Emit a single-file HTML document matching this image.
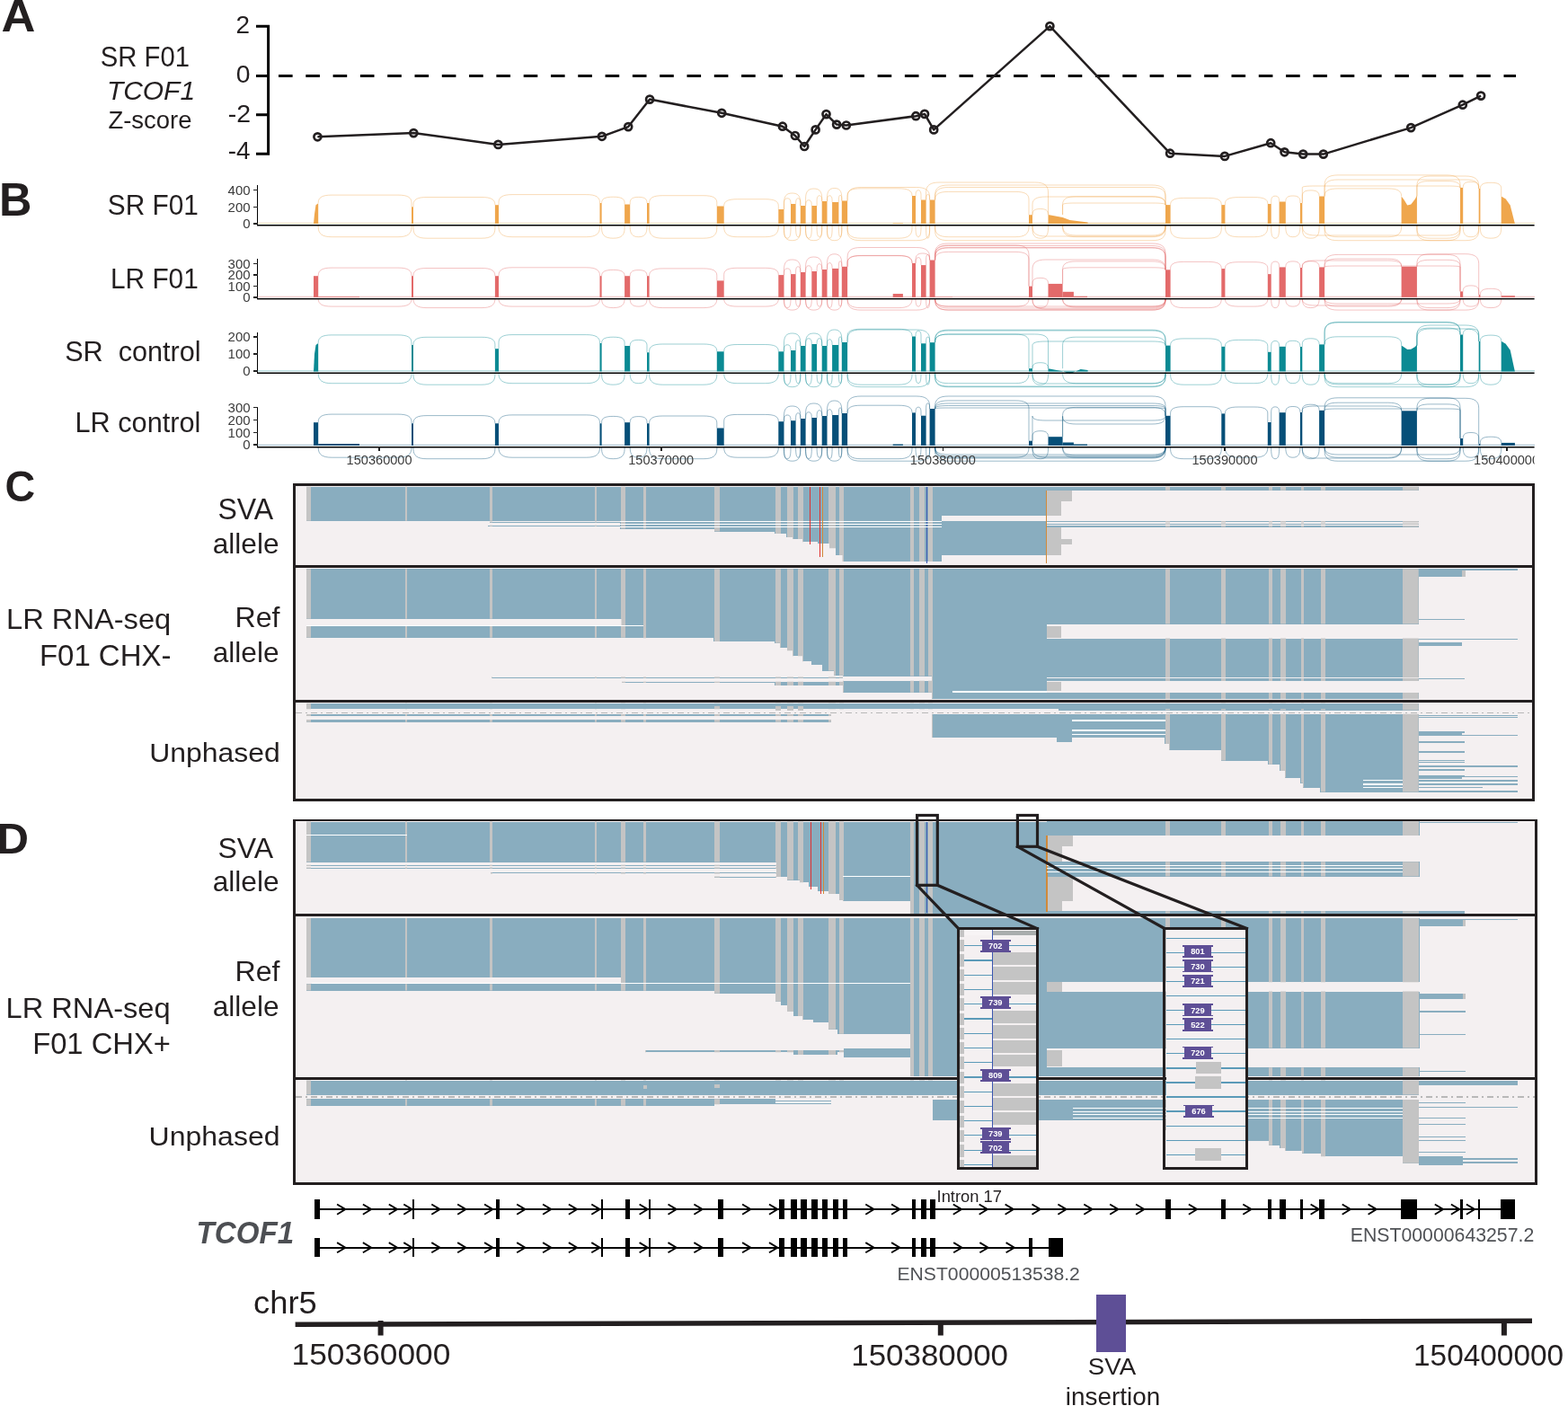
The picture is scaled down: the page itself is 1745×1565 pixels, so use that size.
<!DOCTYPE html>
<html><head><meta charset="utf-8"><title>TCOF1 figure</title>
<style>
html,body{margin:0;padding:0;background:#fff;}
body{width:1745px;height:1565px;overflow:hidden;}
svg{display:block;}
text{font-family:'Liberation Sans', Arial, Helvetica, sans-serif;}
</style></head><body>
<svg width="1745" height="1565" viewBox="0 0 1745 1565" shape-rendering="crispEdges">
<text x="1.63" y="34.70" font-size="50.71" fill="#231f20" font-weight="bold" textLength="37.86" lengthAdjust="spacingAndGlyphs">A</text>
<text x="111.84" y="73.79" font-size="31.27" fill="#231f20" textLength="99.13" lengthAdjust="spacingAndGlyphs">SR F01</text>
<text x="118.91" y="110.50" font-size="30.42" fill="#231f20" font-style="italic" textLength="98.13" lengthAdjust="spacingAndGlyphs">TCOF1</text>
<text x="120.38" y="142.72" font-size="28.14" fill="#231f20" textLength="93.08" lengthAdjust="spacingAndGlyphs">Z-score</text>
<text x="262.51" y="36.60" font-size="27.86" fill="#231f20">2</text>
<text x="262.77" y="92.02" font-size="28.31" fill="#231f20">0</text>
<text x="253.76" y="135.90" font-size="28.43" fill="#231f20">-2</text>
<text x="253.79" y="176.80" font-size="27.86" fill="#231f20">-4</text>
<text x="-1.03" y="239.50" font-size="51.88" fill="#231f20" font-weight="bold" textLength="36.46" lengthAdjust="spacingAndGlyphs">B</text>
<text x="119.81" y="239.29" font-size="31.27" fill="#231f20" textLength="100.98" lengthAdjust="spacingAndGlyphs">SR F01</text>
<text x="123.02" y="321.48" font-size="31.83" fill="#231f20" textLength="97.76" lengthAdjust="spacingAndGlyphs">LR F01</text>
<text x="72.18" y="402.09" font-size="30.54" fill="#231f20" textLength="151.45" lengthAdjust="spacingAndGlyphs" xml:space="preserve">SR  control</text>
<text x="83.54" y="480.59" font-size="30.68" fill="#231f20">LR control</text>
<text x="5.44" y="557.91" font-size="49.01" fill="#231f20" font-weight="bold" textLength="33.67" lengthAdjust="spacingAndGlyphs">C</text>
<text x="242.50" y="577.87" font-size="32.82" fill="#231f20" textLength="61.72" lengthAdjust="spacingAndGlyphs">SVA</text>
<text x="236.73" y="615.69" font-size="30.95" fill="#231f20" textLength="73.89" lengthAdjust="spacingAndGlyphs">allele</text>
<text x="261.53" y="698.49" font-size="30.68" fill="#231f20" textLength="49.95" lengthAdjust="spacingAndGlyphs">Ref</text>
<text x="236.73" y="736.69" font-size="30.95" fill="#231f20" textLength="73.89" lengthAdjust="spacingAndGlyphs">allele</text>
<text x="7.09" y="700.38" font-size="30.55" fill="#231f20" textLength="183.16" lengthAdjust="spacingAndGlyphs">LR RNA-seq</text>
<text x="43.96" y="740.68" font-size="32.39" fill="#231f20" textLength="146.43" lengthAdjust="spacingAndGlyphs">F01 CHX-</text>
<text x="166.25" y="848.48" font-size="30.11" fill="#231f20" textLength="145.56" lengthAdjust="spacingAndGlyphs">Unphased</text>
<text x="-3.44" y="950.40" font-size="48.41" fill="#231f20" font-weight="bold" textLength="35.52" lengthAdjust="spacingAndGlyphs">D</text>
<text x="242.50" y="954.68" font-size="32.25" fill="#231f20" textLength="61.72" lengthAdjust="spacingAndGlyphs">SVA</text>
<text x="236.73" y="992.49" font-size="31.08" fill="#231f20" textLength="73.89" lengthAdjust="spacingAndGlyphs">allele</text>
<text x="261.53" y="1092.49" font-size="30.81" fill="#231f20" textLength="49.95" lengthAdjust="spacingAndGlyphs">Ref</text>
<text x="236.73" y="1130.59" font-size="30.95" fill="#231f20" textLength="73.89" lengthAdjust="spacingAndGlyphs">allele</text>
<text x="6.49" y="1132.87" font-size="31.10" fill="#231f20" textLength="183.16" lengthAdjust="spacingAndGlyphs">LR RNA-seq</text>
<text x="36.18" y="1172.68" font-size="32.39" fill="#231f20" textLength="153.74" lengthAdjust="spacingAndGlyphs">F01 CHX+</text>
<text x="165.64" y="1275.24" font-size="29.79" fill="#231f20" textLength="145.87" lengthAdjust="spacingAndGlyphs">Unphased</text>
<text x="1042.55" y="1338.01" font-size="18.59" fill="#231f20" textLength="72.52" lengthAdjust="spacingAndGlyphs">Intron 17</text>
<text x="218.58" y="1384.15" font-size="34.79" fill="#4d4f53" font-weight="bold" font-style="italic" textLength="108.54" lengthAdjust="spacingAndGlyphs">TCOF1</text>
<text x="998.51" y="1424.80" font-size="20.28" fill="#505256" textLength="203.32" lengthAdjust="spacingAndGlyphs">ENST00000513538.2</text>
<text x="1502.80" y="1382.08" font-size="21.69" fill="#505256" textLength="204.44" lengthAdjust="spacingAndGlyphs">ENST00000643257.2</text>
<text x="282.05" y="1461.75" font-size="34.86" fill="#231f20" textLength="70.60" lengthAdjust="spacingAndGlyphs">chr5</text>
<text x="324.57" y="1519.37" font-size="32.68" fill="#231f20" textLength="176.78" lengthAdjust="spacingAndGlyphs">150360000</text>
<text x="947.31" y="1520.27" font-size="32.54" fill="#231f20" textLength="174.73" lengthAdjust="spacingAndGlyphs">150380000</text>
<text x="1573.03" y="1520.27" font-size="32.54" fill="#231f20" textLength="167.16" lengthAdjust="spacingAndGlyphs">150400000</text>
<text x="1210.82" y="1530.44" font-size="25.92" fill="#231f20" textLength="53.27" lengthAdjust="spacingAndGlyphs">SVA</text>
<text x="1185.75" y="1563.63" font-size="27.43" fill="#231f20" textLength="105.40" lengthAdjust="spacingAndGlyphs">insertion</text>
<g shape-rendering="auto">
<path d="M285,29.2 H298.6 V171.3 H285 M285,84.4 H298.6 M285,127.7 H298.6" fill="none" stroke="#000" stroke-width="3"/>
<line x1="310" y1="84.4" x2="1687" y2="84.4" stroke="#000" stroke-width="3" stroke-dasharray="15.6 14.7"/>
<polyline points="353.4,152.3 460.3,148.1 554.4,160.9 669.9,151.8 699.2,141.1 723.1,110.6 803.2,125.8 870.9,140.7 884.9,151.0 895.2,163.0 907.6,144.4 919.5,127.1 931.1,138.6 941.8,139.5 1019.3,129.2 1029.0,126.9 1039.2,144.4 1168.4,29.1 1302.1,170.7 1363.0,173.9 1414.2,159.2 1429.5,169.3 1450.2,171.6 1472.8,171.6 1570.2,142.1 1627.8,116.7 1648.1,106.6" fill="none" stroke="#231f20" stroke-width="2.5" stroke-linejoin="round"/>
<circle cx="353.4" cy="152.3" r="4.0" fill="none" stroke="#231f20" stroke-width="2.7"/>
<circle cx="460.3" cy="148.1" r="4.0" fill="none" stroke="#231f20" stroke-width="2.7"/>
<circle cx="554.4" cy="160.9" r="4.0" fill="none" stroke="#231f20" stroke-width="2.7"/>
<circle cx="669.9" cy="151.8" r="4.0" fill="none" stroke="#231f20" stroke-width="2.7"/>
<circle cx="699.2" cy="141.1" r="4.0" fill="none" stroke="#231f20" stroke-width="2.7"/>
<circle cx="723.1" cy="110.6" r="4.0" fill="none" stroke="#231f20" stroke-width="2.7"/>
<circle cx="803.2" cy="125.8" r="4.0" fill="none" stroke="#231f20" stroke-width="2.7"/>
<circle cx="870.9" cy="140.7" r="4.0" fill="none" stroke="#231f20" stroke-width="2.7"/>
<circle cx="884.9" cy="151.0" r="4.0" fill="none" stroke="#231f20" stroke-width="2.7"/>
<circle cx="895.2" cy="163.0" r="4.0" fill="none" stroke="#231f20" stroke-width="2.7"/>
<circle cx="907.6" cy="144.4" r="4.0" fill="none" stroke="#231f20" stroke-width="2.7"/>
<circle cx="919.5" cy="127.1" r="4.0" fill="none" stroke="#231f20" stroke-width="2.7"/>
<circle cx="931.1" cy="138.6" r="4.0" fill="none" stroke="#231f20" stroke-width="2.7"/>
<circle cx="941.8" cy="139.5" r="4.0" fill="none" stroke="#231f20" stroke-width="2.7"/>
<circle cx="1019.3" cy="129.2" r="4.0" fill="none" stroke="#231f20" stroke-width="2.7"/>
<circle cx="1029.0" cy="126.9" r="4.0" fill="none" stroke="#231f20" stroke-width="2.7"/>
<circle cx="1039.2" cy="144.4" r="4.0" fill="none" stroke="#231f20" stroke-width="2.7"/>
<circle cx="1168.4" cy="29.1" r="4.0" fill="none" stroke="#231f20" stroke-width="2.7"/>
<circle cx="1302.1" cy="170.7" r="4.0" fill="none" stroke="#231f20" stroke-width="2.7"/>
<circle cx="1363.0" cy="173.9" r="4.0" fill="none" stroke="#231f20" stroke-width="2.7"/>
<circle cx="1414.2" cy="159.2" r="4.0" fill="none" stroke="#231f20" stroke-width="2.7"/>
<circle cx="1429.5" cy="169.3" r="4.0" fill="none" stroke="#231f20" stroke-width="2.7"/>
<circle cx="1450.2" cy="171.6" r="4.0" fill="none" stroke="#231f20" stroke-width="2.7"/>
<circle cx="1472.8" cy="171.6" r="4.0" fill="none" stroke="#231f20" stroke-width="2.7"/>
<circle cx="1570.2" cy="142.1" r="4.0" fill="none" stroke="#231f20" stroke-width="2.7"/>
<circle cx="1627.8" cy="116.7" r="4.0" fill="none" stroke="#231f20" stroke-width="2.7"/>
<circle cx="1648.1" cy="106.6" r="4.0" fill="none" stroke="#231f20" stroke-width="2.7"/>
</g>
<rect x="350.2" y="1345.1" width="1335.3999999999999" height="2" fill="#000"/>
<rect x="350.2" y="1335.3" width="5.300000000000011" height="21.299999999999955" fill="#000"/>
<rect x="459" y="1335.3" width="2" height="21.299999999999955" fill="#000"/>
<rect x="551.8" y="1335.3" width="4.0" height="21.299999999999955" fill="#000"/>
<rect x="668.5" y="1335.3" width="2.0" height="21.299999999999955" fill="#000"/>
<rect x="696.2" y="1335.3" width="5.199999999999932" height="21.299999999999955" fill="#000"/>
<rect x="721.5" y="1335.3" width="2.0" height="21.299999999999955" fill="#000"/>
<rect x="799.3" y="1335.3" width="6.0" height="21.299999999999955" fill="#000"/>
<rect x="866.8" y="1335.3" width="6.400000000000091" height="21.299999999999955" fill="#000"/>
<rect x="880.4" y="1335.3" width="6.2000000000000455" height="21.299999999999955" fill="#000"/>
<rect x="891.3" y="1335.3" width="6.400000000000091" height="21.299999999999955" fill="#000"/>
<rect x="903.4" y="1335.3" width="6.399999999999977" height="21.299999999999955" fill="#000"/>
<rect x="915.2" y="1335.3" width="6.199999999999932" height="21.299999999999955" fill="#000"/>
<rect x="926.8" y="1335.3" width="6.5" height="21.299999999999955" fill="#000"/>
<rect x="937.7" y="1335.3" width="5.699999999999932" height="21.299999999999955" fill="#000"/>
<rect x="1015" y="1335.3" width="4.399999999999977" height="21.299999999999955" fill="#000"/>
<rect x="1025.4" y="1335.3" width="5.099999999999909" height="21.299999999999955" fill="#000"/>
<rect x="1035.2" y="1335.3" width="5.599999999999909" height="21.299999999999955" fill="#000"/>
<rect x="1296.8" y="1335.3" width="5.900000000000091" height="21.299999999999955" fill="#000"/>
<rect x="1359.1" y="1335.3" width="4.800000000000182" height="21.299999999999955" fill="#000"/>
<rect x="1411.1" y="1335.3" width="3.7000000000000455" height="21.299999999999955" fill="#000"/>
<rect x="1423.9" y="1335.3" width="7.199999999999818" height="21.299999999999955" fill="#000"/>
<rect x="1447.3" y="1335.3" width="2.2000000000000455" height="21.299999999999955" fill="#000"/>
<rect x="1468.4" y="1335.3" width="5.2999999999999545" height="21.299999999999955" fill="#000"/>
<rect x="1559.3" y="1335.3" width="17.799999999999955" height="21.299999999999955" fill="#000"/>
<rect x="1624.5" y="1335.3" width="3.2999999999999545" height="21.299999999999955" fill="#000"/>
<rect x="1645.2" y="1335.3" width="2.0" height="21.299999999999955" fill="#000"/>
<rect x="1670.4" y="1335.3" width="15.199999999999818" height="21.299999999999955" fill="#000"/>
<g shape-rendering="auto" fill="none" stroke="#000" stroke-width="1.9">
<path d="M375.1,1340.5 L384.4,1346.1 L375.1,1351.7"/>
<path d="M403.9,1340.5 L413.2,1346.1 L403.9,1351.7"/>
<path d="M432.8,1340.5 L442.1,1346.1 L432.8,1351.7"/>
<path d="M449.3,1340.5 L458.6,1346.1 L449.3,1351.7"/>
<path d="M480.3,1340.5 L489.6,1346.1 L480.3,1351.7"/>
<path d="M509.2,1340.5 L518.5,1346.1 L509.2,1351.7"/>
<path d="M539.1,1340.5 L548.4,1346.1 L539.1,1351.7"/>
<path d="M575.2,1340.5 L584.5,1346.1 L575.2,1351.7"/>
<path d="M604.1,1340.5 L613.4,1346.1 L604.1,1351.7"/>
<path d="M632.9,1340.5 L642.2,1346.1 L632.9,1351.7"/>
<path d="M658.3,1340.5 L667.6,1346.1 L658.3,1351.7"/>
<path d="M711.6,1340.5 L720.9,1346.1 L711.6,1351.7"/>
<path d="M743.5,1340.5 L752.8,1346.1 L743.5,1351.7"/>
<path d="M772.4,1340.5 L781.7,1346.1 L772.4,1351.7"/>
<path d="M826.1,1340.5 L835.4,1346.1 L826.1,1351.7"/>
<path d="M856.0,1340.5 L865.3,1346.1 L856.0,1351.7"/>
<path d="M963.3,1340.5 L972.6,1346.1 L963.3,1351.7"/>
<path d="M992.1,1340.5 L1001.4,1346.1 L992.1,1351.7"/>
<path d="M1060.8,1340.5 L1070.1,1346.1 L1060.8,1351.7"/>
<path d="M1089.7,1340.5 L1099.0,1346.1 L1089.7,1351.7"/>
<path d="M1118.6,1340.5 L1127.9,1346.1 L1118.6,1351.7"/>
<path d="M1148.5,1340.5 L1157.8,1346.1 L1148.5,1351.7"/>
<path d="M1177.4,1340.5 L1186.7,1346.1 L1177.4,1351.7"/>
<path d="M1206.3,1340.5 L1215.6,1346.1 L1206.3,1351.7"/>
<path d="M1235.2,1340.5 L1244.5,1346.1 L1235.2,1351.7"/>
<path d="M1264.1,1340.5 L1273.4,1346.1 L1264.1,1351.7"/>
<path d="M1322.9,1340.5 L1332.2,1346.1 L1322.9,1351.7"/>
<path d="M1383.3,1340.5 L1392.6,1346.1 L1383.3,1351.7"/>
<path d="M1458.6,1340.5 L1467.9,1346.1 L1458.6,1351.7"/>
<path d="M1493.7,1340.5 L1503.0,1346.1 L1493.7,1351.7"/>
<path d="M1522.6,1340.5 L1531.9,1346.1 L1522.6,1351.7"/>
<path d="M1596.8,1340.5 L1606.1,1346.1 L1596.8,1351.7"/>
<path d="M1614.9,1340.5 L1624.2,1346.1 L1614.9,1351.7"/>
<path d="M1631.9,1340.5 L1641.2,1346.1 L1631.9,1351.7"/>
</g>
<rect x="350.2" y="1387.7" width="832.5" height="2" fill="#000"/>
<rect x="350.2" y="1378.1" width="5.300000000000011" height="21.100000000000136" fill="#000"/>
<rect x="459" y="1378.1" width="2" height="21.100000000000136" fill="#000"/>
<rect x="551.8" y="1378.1" width="4.0" height="21.100000000000136" fill="#000"/>
<rect x="668.5" y="1378.1" width="2.0" height="21.100000000000136" fill="#000"/>
<rect x="696.2" y="1378.1" width="5.199999999999932" height="21.100000000000136" fill="#000"/>
<rect x="721.5" y="1378.1" width="2.0" height="21.100000000000136" fill="#000"/>
<rect x="799.3" y="1378.1" width="6.0" height="21.100000000000136" fill="#000"/>
<rect x="866.8" y="1378.1" width="6.400000000000091" height="21.100000000000136" fill="#000"/>
<rect x="880.4" y="1378.1" width="6.2000000000000455" height="21.100000000000136" fill="#000"/>
<rect x="891.3" y="1378.1" width="6.400000000000091" height="21.100000000000136" fill="#000"/>
<rect x="903.4" y="1378.1" width="6.399999999999977" height="21.100000000000136" fill="#000"/>
<rect x="915.2" y="1378.1" width="6.199999999999932" height="21.100000000000136" fill="#000"/>
<rect x="926.8" y="1378.1" width="6.5" height="21.100000000000136" fill="#000"/>
<rect x="937.7" y="1378.1" width="5.699999999999932" height="21.100000000000136" fill="#000"/>
<rect x="1015" y="1378.1" width="4.399999999999977" height="21.100000000000136" fill="#000"/>
<rect x="1025.4" y="1378.1" width="5.099999999999909" height="21.100000000000136" fill="#000"/>
<rect x="1035.2" y="1378.1" width="5.599999999999909" height="21.100000000000136" fill="#000"/>
<rect x="1145.3" y="1378.1" width="3.2999999999999545" height="21.100000000000136" fill="#000"/>
<rect x="1166.7" y="1378.1" width="16.0" height="21.100000000000136" fill="#000"/>
<g shape-rendering="auto" fill="none" stroke="#000" stroke-width="1.9">
<path d="M375.1,1383.1 L384.4,1388.7 L375.1,1394.3"/>
<path d="M403.9,1383.1 L413.2,1388.7 L403.9,1394.3"/>
<path d="M432.8,1383.1 L442.1,1388.7 L432.8,1394.3"/>
<path d="M449.3,1383.1 L458.6,1388.7 L449.3,1394.3"/>
<path d="M480.3,1383.1 L489.6,1388.7 L480.3,1394.3"/>
<path d="M509.2,1383.1 L518.5,1388.7 L509.2,1394.3"/>
<path d="M539.1,1383.1 L548.4,1388.7 L539.1,1394.3"/>
<path d="M575.2,1383.1 L584.5,1388.7 L575.2,1394.3"/>
<path d="M604.1,1383.1 L613.4,1388.7 L604.1,1394.3"/>
<path d="M632.9,1383.1 L642.2,1388.7 L632.9,1394.3"/>
<path d="M658.3,1383.1 L667.6,1388.7 L658.3,1394.3"/>
<path d="M711.6,1383.1 L720.9,1388.7 L711.6,1394.3"/>
<path d="M743.5,1383.1 L752.8,1388.7 L743.5,1394.3"/>
<path d="M772.4,1383.1 L781.7,1388.7 L772.4,1394.3"/>
<path d="M826.1,1383.1 L835.4,1388.7 L826.1,1394.3"/>
<path d="M856.0,1383.1 L865.3,1388.7 L856.0,1394.3"/>
<path d="M963.3,1383.1 L972.6,1388.7 L963.3,1394.3"/>
<path d="M992.1,1383.1 L1001.4,1388.7 L992.1,1394.3"/>
<path d="M1061.2,1383.1 L1070.5,1388.7 L1061.2,1394.3"/>
<path d="M1090.4,1383.1 L1099.7,1388.7 L1090.4,1394.3"/>
<path d="M1119.6,1383.1 L1128.9,1388.7 L1119.6,1394.3"/>
</g>
<g shape-rendering="auto">
<path d="M328.6,1474.2 L1705,1470.3" stroke="#231f20" stroke-width="5.6" fill="none"/>
<rect x="420.6" y="1470" width="6" height="16.5" fill="#231f20"/>
<rect x="1043.8" y="1470" width="6" height="16.5" fill="#231f20"/>
<rect x="1670.9" y="1470" width="6" height="16.5" fill="#231f20"/>
</g>
<rect x="1219.6" y="1441.2" width="33.2" height="63.7" fill="#5e4f96"/>
<g fill="#efa64c" shape-rendering="auto"><path d="M349,248.89999999999998 L350,238.2 L351.5,228.2 L354.2,226.2 L354.2,248.89999999999998 Z"/><rect x="458" y="230.3" width="2.0" height="18.6"/><rect x="550.9" y="228.2" width="4.1" height="20.7"/><rect x="667.5" y="226" width="2.1" height="22.9"/><rect x="695.1" y="227.5" width="6.1" height="21.4"/><rect x="720" y="226" width="2.6" height="22.9"/><rect x="797.8" y="229.5" width="7.9" height="19.4"/><rect x="866.3" y="233" width="6.2" height="15.9"/><rect x="880" y="227" width="5.6" height="21.9"/><rect x="890.8" y="229" width="5.8" height="19.9"/><rect x="903.3" y="229" width="5.8" height="19.9"/><rect x="914.7" y="224" width="5.8" height="24.9"/><rect x="926.1" y="225" width="7.3" height="23.9"/><rect x="936.8" y="223.5" width="6.3" height="25.4"/><rect x="1015" y="218" width="4.0" height="30.9"/><rect x="1025" y="222.5" width="5.6" height="26.4"/><rect x="1034.6" y="222.5" width="6.0" height="26.4"/><rect x="1145" y="239.2" width="4.0" height="9.7"/><path d="M1166.5,248.89999999999998 L1166.5,239 L1182.6,242 L1190.6,245 L1202.6,246.39999999999998 L1210.6,247.39999999999998 L1210.6,248.89999999999998 Z"/><rect x="1297" y="228.1" width="5.6" height="20.8"/><rect x="1359.3" y="228.1" width="4.1" height="20.8"/><rect x="1410.8" y="227" width="3.9" height="21.9"/><rect x="1423.6" y="224.5" width="7.2" height="24.4"/><rect x="1446.9" y="226" width="2.4" height="22.9"/><rect x="1468.1" y="218.5" width="6.0" height="30.4"/><path d="M1559.6,248.89999999999998 L1559.6,218.5 L1562.6,222.5 L1566.25,228.5 L1570.25,227.5 L1574.9,221.5 L1576.9,217.5 L1576.9,248.89999999999998 Z"/><rect x="1625" y="208.9" width="3.2" height="40.0"/><rect x="1645.7" y="210" width="1.7" height="38.9"/><path d="M1670.7,248.89999999999998 L1670.7,218.5 L1675.7,221.5 L1680.7,228.5 L1685.9,248.89999999999998 Z"/><rect x="1200" y="248.5" width="97.0" height="0.4"/><rect x="993.7" y="248.3" width="11.2" height="0.6"/></g>
<rect x="287" y="247.9" width="1421" height="0.9" fill="#efa64c" opacity="0.45" shape-rendering="auto"/>
<path d="M354.2,226.2 L354.2,225.7 C354.2,219.7 358.7,217.1 369.2,217.1 L443.0,217.1 C453.5,217.1 458.0,219.7 458.0,225.7 L458.0,230.3 M354.2,250.2 L354.2,252.7 C354.2,260.4 358.7,263.7 369.2,263.7 L443.0,263.7 C453.5,263.7 458.0,260.4 458.0,252.7 L458.0,250.2 M460.0,230.3 L460.0,227.8 C460.0,222.0 464.5,219.5 475.0,219.5 L535.9,219.5 C546.4,219.5 550.9,222.0 550.9,227.8 L550.9,228.2 M460.0,250.2 L460.0,254.2 C460.0,261.9 464.5,265.2 475.0,265.2 L535.9,265.2 C546.4,265.2 550.9,261.9 550.9,254.2 L550.9,250.2 M555.0,228.2 L555.0,225.5 C555.0,219.3 559.5,216.6 570.0,216.6 L652.5,216.6 C663.0,216.6 667.5,219.3 667.5,225.5 L667.5,226.0 M555.0,250.2 L555.0,252.7 C555.0,260.4 559.5,263.7 570.0,263.7 L652.5,263.7 C663.0,263.7 667.5,260.4 667.5,252.7 L667.5,250.2 M669.6,226.0 L669.6,225.7 C669.6,221.2 673.4,219.2 682.4,219.2 L682.4,219.2 C691.3,219.2 695.1,221.2 695.1,225.7 L695.1,227.5 M669.6,250.2 L669.6,254.2 C669.6,261.9 673.4,265.2 682.4,265.2 L682.4,265.2 C691.3,265.2 695.1,261.9 695.1,254.2 L695.1,250.2 M701.2,227.5 L701.2,225.7 C701.2,221.3 704.0,219.4 710.6,219.4 L710.6,219.4 C717.2,219.4 720.0,221.3 720.0,225.7 L720.0,226.0 M701.2,250.2 L701.2,252.7 C701.2,260.4 704.0,263.7 710.6,263.7 L710.6,263.7 C717.2,263.7 720.0,260.4 720.0,252.7 L720.0,250.2 M722.6,226.0 L722.6,225.6 C722.6,220.1 727.1,217.7 737.6,217.7 L782.8,217.7 C793.3,217.7 797.8,220.1 797.8,225.6 L797.8,229.5 M722.6,250.2 L722.6,254.2 C722.6,261.9 727.1,265.2 737.6,265.2 L782.8,265.2 C793.3,265.2 797.8,261.9 797.8,254.2 L797.8,250.2 M805.7,229.5 L805.7,229.1 C805.7,223.9 810.2,221.7 820.7,221.7 L851.3,221.7 C861.8,221.7 866.3,223.9 866.3,229.1 L866.3,233.0 M805.7,250.2 L805.7,252.7 C805.7,260.4 810.2,263.7 820.7,263.7 L851.3,263.7 C861.8,263.7 866.3,260.4 866.3,252.7 L866.3,250.2 M872.5,233.0 L872.5,226.7 C872.5,222.5 873.6,220.8 876.2,220.8 L876.2,220.8 C878.9,220.8 880.0,222.5 880.0,226.7 L880.0,227.0 M872.5,250.2 L872.5,254.2 C872.5,261.9 873.6,265.2 876.2,265.2 L876.2,265.2 C878.9,265.2 880.0,261.9 880.0,254.2 L880.0,250.2 M885.6,227.0 L885.6,226.7 C885.6,222.6 886.4,220.8 888.2,220.8 L888.2,220.8 C890.0,220.8 890.8,222.6 890.8,226.7 L890.8,229.0 M885.6,250.2 L885.6,252.7 C885.6,260.4 886.4,263.7 888.2,263.7 L888.2,263.7 C890.0,263.7 890.8,260.4 890.8,252.7 L890.8,250.2 M896.6,229.0 L896.6,228.7 C896.6,224.6 897.6,222.8 900.0,222.8 L900.0,222.8 C902.3,222.8 903.3,224.6 903.3,228.7 L903.3,229.0 M896.6,250.2 L896.6,254.2 C896.6,261.9 897.6,265.2 900.0,265.2 L900.0,265.2 C902.3,265.2 903.3,261.9 903.3,254.2 L903.3,250.2 M909.1,229.0 L909.1,223.7 C909.1,219.6 909.9,217.8 911.9,217.8 L911.9,217.8 C913.9,217.8 914.7,219.6 914.7,223.7 L914.7,224.0 M909.1,250.2 L909.1,252.7 C909.1,260.4 909.9,263.7 911.9,263.7 L911.9,263.7 C913.9,263.7 914.7,260.4 914.7,252.7 L914.7,250.2 M920.5,224.0 L920.5,223.7 C920.5,219.6 921.3,217.8 923.3,217.8 L923.3,217.8 C925.3,217.8 926.1,219.6 926.1,223.7 L926.1,225.0 M920.5,250.2 L920.5,254.2 C920.5,261.9 921.3,265.2 923.3,265.2 L923.3,265.2 C925.3,265.2 926.1,261.9 926.1,254.2 L926.1,250.2 M933.4,225.0 L933.4,223.2 C933.4,219.1 933.9,217.4 935.1,217.4 L935.1,217.4 C936.3,217.4 936.8,219.1 936.8,223.2 L936.8,223.5 M933.4,250.2 L933.4,252.7 C933.4,260.4 933.9,263.7 935.1,263.7 L935.1,263.7 C936.3,263.7 936.8,260.4 936.8,252.7 L936.8,250.2 M943.1,223.5 L943.1,217.6 C943.1,212.2 947.6,209.8 958.1,209.8 L1000.0,209.8 C1010.5,209.8 1015.0,212.2 1015.0,217.6 L1015.0,218.0 M943.1,250.2 L943.1,254.2 C943.1,261.9 947.6,265.2 958.1,265.2 L1000.0,265.2 C1010.5,265.2 1015.0,261.9 1015.0,254.2 L1015.0,250.2 M1019.0,218.0 L1019.0,217.7 C1019.0,213.6 1019.9,211.8 1022.0,211.8 L1022.0,211.8 C1024.1,211.8 1025.0,213.6 1025.0,217.7 L1025.0,222.5 M1019.0,250.2 L1019.0,252.7 C1019.0,260.4 1019.9,263.7 1022.0,263.7 L1022.0,263.7 C1024.1,263.7 1025.0,260.4 1025.0,252.7 L1025.0,250.2 M1030.6,222.5 L1030.6,222.2 C1030.6,218.1 1031.2,216.4 1032.6,216.4 L1032.6,216.4 C1034.0,216.4 1034.6,218.1 1034.6,222.2 L1034.6,222.5 M1030.6,250.2 L1030.6,254.2 C1030.6,261.9 1031.2,265.2 1032.6,265.2 L1032.6,265.2 C1034.0,265.2 1034.6,261.9 1034.6,254.2 L1034.6,250.2 M1040.6,222.5 L1040.6,222.0 C1040.6,216.0 1045.1,213.4 1055.6,213.4 L1130.0,213.4 C1140.5,213.4 1145.0,216.0 1145.0,222.0 L1145.0,239.2 M1040.6,250.2 L1040.6,252.7 C1040.6,260.4 1045.1,263.7 1055.6,263.7 L1130.0,263.7 C1140.5,263.7 1145.0,260.4 1145.0,252.7 L1145.0,250.2 M1149.0,239.2 L1149.0,238.7 C1149.0,234.3 1151.6,232.5 1157.8,232.5 L1157.8,232.5 C1163.9,232.5 1166.5,234.3 1166.5,238.7 L1166.5,239.0 M1149.0,250.2 L1149.0,254.2 C1149.0,261.9 1151.6,265.2 1157.8,265.2 L1157.8,265.2 C1163.9,265.2 1166.5,261.9 1166.5,254.2 L1166.5,250.2 M1182.6,239.0 L1182.6,227.6 C1182.6,221.4 1187.1,218.7 1197.6,218.7 L1282.0,218.7 C1292.5,218.7 1297.0,221.4 1297.0,227.6 L1297.0,228.1 M1182.6,250.2 L1182.6,252.7 C1182.6,260.4 1187.1,263.7 1197.6,263.7 L1282.0,263.7 C1292.5,263.7 1297.0,260.4 1297.0,252.7 L1297.0,250.2 M1302.6,228.1 L1302.6,227.7 C1302.6,222.6 1307.1,220.4 1317.6,220.4 L1344.3,220.4 C1354.8,220.4 1359.3,222.6 1359.3,227.7 L1359.3,228.1 M1302.6,250.2 L1302.6,254.2 C1302.6,261.9 1307.1,265.2 1317.6,265.2 L1344.3,265.2 C1354.8,265.2 1359.3,261.9 1359.3,254.2 L1359.3,250.2 M1363.4,228.1 L1363.4,226.6 C1363.4,221.7 1367.9,219.6 1378.4,219.6 L1395.8,219.6 C1406.3,219.6 1410.8,221.7 1410.8,226.6 L1410.8,227.0 M1363.4,250.2 L1363.4,252.7 C1363.4,260.4 1367.9,263.7 1378.4,263.7 L1395.8,263.7 C1406.3,263.7 1410.8,260.4 1410.8,252.7 L1410.8,250.2 M1414.7,227.0 L1414.7,224.2 C1414.7,220.0 1416.0,218.2 1419.2,218.2 L1419.2,218.2 C1422.3,218.2 1423.6,220.0 1423.6,224.2 L1423.6,224.5 M1414.7,250.2 L1414.7,254.2 C1414.7,261.9 1416.0,265.2 1419.2,265.2 L1419.2,265.2 C1422.3,265.2 1423.6,261.9 1423.6,254.2 L1423.6,250.2 M1430.8,224.5 L1430.8,224.2 C1430.8,219.9 1433.2,218.0 1438.8,218.0 L1438.8,218.0 C1444.5,218.0 1446.9,219.9 1446.9,224.2 L1446.9,226.0 M1430.8,250.2 L1430.8,252.7 C1430.8,260.4 1433.2,263.7 1438.8,263.7 L1438.8,263.7 C1444.5,263.7 1446.9,260.4 1446.9,252.7 L1446.9,250.2 M1449.3,226.0 L1449.3,218.2 C1449.3,213.8 1452.1,211.9 1458.7,211.9 L1458.7,211.9 C1465.3,211.9 1468.1,213.8 1468.1,218.2 L1468.1,218.5 M1449.3,250.2 L1449.3,254.2 C1449.3,261.9 1452.1,265.2 1458.7,265.2 L1458.7,265.2 C1465.3,265.2 1468.1,261.9 1468.1,254.2 L1468.1,250.2 M1474.1,218.5 L1474.1,218.1 C1474.1,212.4 1478.6,209.9 1489.1,209.9 L1544.6,209.9 C1555.1,209.9 1559.6,212.4 1559.6,218.1 L1559.6,218.5 M1474.1,250.2 L1474.1,252.7 C1474.1,260.4 1478.6,263.7 1489.1,263.7 L1544.6,263.7 C1555.1,263.7 1559.6,260.4 1559.6,252.7 L1559.6,250.2 M1576.9,218.5 L1576.9,208.5 C1576.9,203.6 1581.4,201.5 1591.9,201.5 L1610.0,201.5 C1620.5,201.5 1625.0,203.6 1625.0,208.5 L1625.0,208.9 M1576.9,250.2 L1576.9,254.2 C1576.9,261.9 1581.4,265.2 1591.9,265.2 L1610.0,265.2 C1620.5,265.2 1625.0,261.9 1625.0,254.2 L1625.0,250.2 M1628.2,208.9 L1628.2,208.6 C1628.2,204.2 1630.8,202.4 1637.0,202.4 L1637.0,202.4 C1643.1,202.4 1645.7,204.2 1645.7,208.6 L1645.7,210.0 M1628.2,250.2 L1628.2,252.7 C1628.2,260.4 1630.8,263.7 1637.0,263.7 L1637.0,263.7 C1643.1,263.7 1645.7,260.4 1645.7,252.7 L1645.7,250.2 M1647.4,210.0 L1647.4,209.7 C1647.4,205.2 1650.9,203.3 1659.1,203.3 L1659.1,203.3 C1667.2,203.3 1670.7,205.2 1670.7,209.7 L1670.7,218.5 M1647.4,250.2 L1647.4,254.2 C1647.4,261.9 1650.9,265.2 1659.1,265.2 L1659.1,265.2 C1667.2,265.2 1670.7,261.9 1670.7,254.2 L1670.7,250.2 M1040.6,222.5 L1040.6,219.5 C1040.6,211.8 1045.1,208.5 1055.6,208.5 L1282.0,208.5 C1292.5,208.5 1297.0,211.8 1297.0,219.5 L1297.0,228.1 M1040.6,250.2 L1040.6,256.7 C1040.6,264.4 1045.1,267.7 1055.6,267.7 L1282.0,267.7 C1292.5,267.7 1297.0,264.4 1297.0,256.7 L1297.0,250.2 M943.1,223.5 L943.1,219.5 C943.1,211.8 947.6,208.5 958.1,208.5 L1019.6,208.5 C1030.1,208.5 1034.6,211.8 1034.6,219.5 L1034.6,222.5 M943.1,250.2 L943.1,256.7 C943.1,264.4 947.6,267.7 958.1,267.7 L1019.6,267.7 C1030.1,267.7 1034.6,264.4 1034.6,256.7 L1034.6,250.2 M1474.1,218.5 L1474.1,205.9 C1474.1,198.2 1478.6,194.9 1489.1,194.9 L1610.0,194.9 C1620.5,194.9 1625.0,198.2 1625.0,205.9 L1625.0,208.9 M1474.1,250.2 L1474.1,256.7 C1474.1,264.4 1478.6,267.7 1489.1,267.7 L1610.0,267.7 C1620.5,267.7 1625.0,264.4 1625.0,256.7 L1625.0,250.2 M1576.9,218.5 L1576.9,207.0 C1576.9,199.3 1581.4,196.0 1591.9,196.0 L1630.7,196.0 C1641.2,196.0 1645.7,199.3 1645.7,207.0 L1645.7,210.0 M1576.9,250.2 L1576.9,256.7 C1576.9,264.4 1581.4,267.7 1591.9,267.7 L1630.7,267.7 C1641.2,267.7 1645.7,264.4 1645.7,256.7 L1645.7,250.2 M872.5,233.0 L872.5,226.0 C872.5,218.3 875.2,215.0 881.6,215.0 L881.6,215.0 C888.1,215.0 890.8,218.3 890.8,226.0 L890.8,229.0 M872.5,250.2 L872.5,256.7 C872.5,264.4 875.2,267.7 881.6,267.7 L881.6,267.7 C888.1,267.7 890.8,264.4 890.8,256.7 L890.8,250.2 M896.6,229.0 L896.6,221.0 C896.6,213.3 899.3,210.0 905.7,210.0 L905.7,210.0 C912.0,210.0 914.7,213.3 914.7,221.0 L914.7,224.0 M896.6,250.2 L896.6,256.7 C896.6,264.4 899.3,267.7 905.7,267.7 L905.7,267.7 C912.0,267.7 914.7,264.4 914.7,256.7 L914.7,250.2 M920.5,224.0 L920.5,220.5 C920.5,212.8 922.9,209.5 928.6,209.5 L928.6,209.5 C934.4,209.5 936.8,212.8 936.8,220.5 L936.8,223.5 M920.5,250.2 L920.5,256.7 C920.5,264.4 922.9,267.7 928.6,267.7 L928.6,267.7 C934.4,267.7 936.8,264.4 936.8,256.7 L936.8,250.2 M1040.6,222.5 L1040.6,217.0 C1040.6,209.3 1045.1,206.0 1055.6,206.0 L1282.0,206.0 C1292.5,206.0 1297.0,209.3 1297.0,217.0 L1297.0,228.1 M1030.6,222.5 L1030.6,214.0 C1030.6,206.3 1035.1,203.0 1045.6,203.0 L1151.5,203.0 C1162.0,203.0 1166.5,206.3 1166.5,214.0 L1166.5,239.0 M1149.0,239.2 L1149.0,227.6 C1149.0,221.6 1153.5,219.0 1164.0,219.0 L1282.0,219.0 C1292.5,219.0 1297.0,221.6 1297.0,227.6 L1297.0,228.1 M1149.0,250.2 L1149.0,252.0 C1149.0,259.7 1153.5,263.0 1164.0,263.0 L1282.0,263.0 C1292.5,263.0 1297.0,259.7 1297.0,252.0 L1297.0,250.2 M1182.6,239.0 L1182.6,228.0 C1182.6,226.6 1187.1,226.0 1197.6,226.0 L1282.0,226.0 C1292.5,226.0 1297.0,226.6 1297.0,228.0 L1297.0,228.1 M1182.6,250.2 L1182.6,251.0 C1182.6,258.7 1187.1,262.0 1197.6,262.0 L1282.0,262.0 C1292.5,262.0 1297.0,258.7 1297.0,251.0 L1297.0,250.2 M1474.1,218.5 L1474.1,209.5 C1474.1,202.8 1478.6,200.0 1489.1,200.0 L1630.7,200.0 C1641.2,200.0 1645.7,202.8 1645.7,209.5 L1645.7,210.0 M1449.3,226.0 L1449.3,208.8 C1449.3,207.5 1453.8,207.0 1464.3,207.0 L1610.0,207.0 C1620.5,207.0 1625.0,207.5 1625.0,208.8 L1625.0,208.9 M1449.3,250.2 L1449.3,251.0 C1449.3,258.7 1453.8,262.0 1464.3,262.0 L1610.0,262.0 C1620.5,262.0 1625.0,258.7 1625.0,251.0 L1625.0,250.2" fill="none" stroke="#efa64c" stroke-width="0.8" opacity="0.5" shape-rendering="auto"/>
<rect x="286" y="205.8" width="1.2" height="45.3" fill="#000"/>
<rect x="286" y="250.0" width="1421.6" height="1.5" fill="#000" shape-rendering="auto"/>
<rect x="282" y="210.9" width="4.5" height="1.5" fill="#222"/>
<text x="278.6" y="216.9" font-size="15" fill="#3b3b3b" text-anchor="end">400</text>
<rect x="282" y="229.5" width="4.5" height="1.5" fill="#222"/>
<text x="278.6" y="235.5" font-size="15" fill="#3b3b3b" text-anchor="end">200</text>
<rect x="282" y="248.1" width="4.5" height="1.5" fill="#222"/>
<text x="278.6" y="254.1" font-size="15" fill="#3b3b3b" text-anchor="end">0</text>
<g fill="#e36a6a" shape-rendering="auto"><rect x="349" y="307.2" width="5.2" height="23.6"/><rect x="458" y="307.2" width="2.0" height="23.6"/><rect x="550.9" y="307.2" width="4.1" height="23.6"/><rect x="667.5" y="307.2" width="2.1" height="23.6"/><rect x="695.1" y="307.2" width="6.1" height="23.6"/><rect x="720" y="307.2" width="2.6" height="23.6"/><rect x="797.8" y="312.4" width="7.9" height="18.4"/><rect x="866.3" y="306.1" width="6.2" height="24.7"/><rect x="880" y="305.1" width="5.6" height="25.7"/><rect x="890.8" y="303" width="5.8" height="27.8"/><rect x="903.3" y="302" width="5.8" height="28.8"/><rect x="914.7" y="300" width="5.8" height="30.8"/><rect x="926.1" y="298.9" width="7.3" height="31.9"/><rect x="936.8" y="296.8" width="6.3" height="34.0"/><rect x="1015" y="292.9" width="4.0" height="37.9"/><rect x="1025" y="295.1" width="5.6" height="35.7"/><rect x="1034.6" y="289.5" width="6.0" height="41.3"/><rect x="1145" y="318.6" width="4.0" height="12.2"/><rect x="1166.5" y="315.9" width="16.1" height="14.9"/><rect x="1297" y="300.3" width="5.6" height="30.5"/><rect x="1359.3" y="299.1" width="4.1" height="31.7"/><rect x="1410.8" y="305.1" width="3.9" height="25.7"/><rect x="1423.6" y="297.4" width="7.2" height="33.4"/><rect x="1446.9" y="298" width="2.4" height="32.8"/><rect x="1468.1" y="297.4" width="6.0" height="33.4"/><rect x="1559.6" y="296.7" width="17.3" height="34.1"/><rect x="1625" y="324.4" width="3.2" height="6.4"/><rect x="1645.7" y="328" width="1.7" height="2.8"/><rect x="1670.7" y="329.2" width="15.2" height="1.6"/><rect x="1182.6" y="324.8" width="12.3" height="6.0"/><rect x="1194.9" y="329.8" width="15.1" height="1.0"/><rect x="993.7" y="327" width="11.2" height="3.8"/><rect x="354.2" y="330.2" width="45.8" height="0.6"/><rect x="1040.6" y="330.5" width="19.4" height="0.3"/></g>
<rect x="287" y="329.8" width="1421" height="0.9" fill="#e36a6a" opacity="0.45" shape-rendering="auto"/>
<path d="M354.2,307.2 L354.2,306.7 C354.2,300.7 358.7,298.1 369.2,298.1 L443.0,298.1 C453.5,298.1 458.0,300.7 458.0,306.7 L458.0,307.2 M354.2,332.1 L354.2,332.6 C354.2,338.5 358.7,341.1 369.2,341.1 L443.0,341.1 C453.5,341.1 458.0,338.5 458.0,332.6 L458.0,332.1 M460.0,307.2 L460.0,306.8 C460.0,301.0 464.5,298.5 475.0,298.5 L535.9,298.5 C546.4,298.5 550.9,301.0 550.9,306.8 L550.9,307.2 M460.0,332.1 L460.0,332.6 C460.0,339.6 464.5,342.6 475.0,342.6 L535.9,342.6 C546.4,342.6 550.9,339.6 550.9,332.6 L550.9,332.1 M555.0,307.2 L555.0,306.7 C555.0,300.5 559.5,297.8 570.0,297.8 L652.5,297.8 C663.0,297.8 667.5,300.5 667.5,306.7 L667.5,307.2 M555.0,332.1 L555.0,332.6 C555.0,338.5 559.5,341.1 570.0,341.1 L652.5,341.1 C663.0,341.1 667.5,338.5 667.5,332.6 L667.5,332.1 M669.6,307.2 L669.6,306.9 C669.6,302.4 673.4,300.4 682.4,300.4 L682.4,300.4 C691.3,300.4 695.1,302.4 695.1,306.9 L695.1,307.2 M669.6,332.1 L669.6,332.6 C669.6,339.6 673.4,342.6 682.4,342.6 L682.4,342.6 C691.3,342.6 695.1,339.6 695.1,332.6 L695.1,332.1 M701.2,307.2 L701.2,306.9 C701.2,302.5 704.0,300.6 710.6,300.6 L710.6,300.6 C717.2,300.6 720.0,302.5 720.0,306.9 L720.0,307.2 M701.2,332.1 L701.2,332.6 C701.2,338.5 704.0,341.1 710.6,341.1 L710.6,341.1 C717.2,341.1 720.0,338.5 720.0,332.6 L720.0,332.1 M722.6,307.2 L722.6,306.8 C722.6,301.3 727.1,298.9 737.6,298.9 L782.8,298.9 C793.3,298.9 797.8,301.3 797.8,306.8 L797.8,312.4 M722.6,332.1 L722.6,332.6 C722.6,339.6 727.1,342.6 737.6,342.6 L782.8,342.6 C793.3,342.6 797.8,339.6 797.8,332.6 L797.8,332.1 M805.7,312.4 L805.7,305.7 C805.7,300.5 810.2,298.3 820.7,298.3 L851.3,298.3 C861.8,298.3 866.3,300.5 866.3,305.7 L866.3,306.1 M805.7,332.1 L805.7,332.6 C805.7,338.5 810.2,341.1 820.7,341.1 L851.3,341.1 C861.8,341.1 866.3,338.5 866.3,332.6 L866.3,332.1 M872.5,306.1 L872.5,304.8 C872.5,300.6 873.6,298.9 876.2,298.9 L876.2,298.9 C878.9,298.9 880.0,300.6 880.0,304.8 L880.0,305.1 M872.5,332.1 L872.5,332.6 C872.5,339.6 873.6,342.6 876.2,342.6 L876.2,342.6 C878.9,342.6 880.0,339.6 880.0,332.6 L880.0,332.1 M885.6,305.1 L885.6,302.7 C885.6,298.6 886.4,296.8 888.2,296.8 L888.2,296.8 C890.0,296.8 890.8,298.6 890.8,302.7 L890.8,303.0 M885.6,332.1 L885.6,332.6 C885.6,338.5 886.4,341.1 888.2,341.1 L888.2,341.1 C890.0,341.1 890.8,338.5 890.8,332.6 L890.8,332.1 M896.6,303.0 L896.6,301.7 C896.6,297.6 897.6,295.8 900.0,295.8 L900.0,295.8 C902.3,295.8 903.3,297.6 903.3,301.7 L903.3,302.0 M896.6,332.1 L896.6,332.6 C896.6,339.6 897.6,342.6 900.0,342.6 L900.0,342.6 C902.3,342.6 903.3,339.6 903.3,332.6 L903.3,332.1 M909.1,302.0 L909.1,299.7 C909.1,295.6 909.9,293.8 911.9,293.8 L911.9,293.8 C913.9,293.8 914.7,295.6 914.7,299.7 L914.7,300.0 M909.1,332.1 L909.1,332.6 C909.1,338.5 909.9,341.1 911.9,341.1 L911.9,341.1 C913.9,341.1 914.7,338.5 914.7,332.6 L914.7,332.1 M920.5,300.0 L920.5,298.6 C920.5,294.5 921.3,292.7 923.3,292.7 L923.3,292.7 C925.3,292.7 926.1,294.5 926.1,298.6 L926.1,298.9 M920.5,332.1 L920.5,332.6 C920.5,339.6 921.3,342.6 923.3,342.6 L923.3,342.6 C925.3,342.6 926.1,339.6 926.1,332.6 L926.1,332.1 M933.4,298.9 L933.4,296.5 C933.4,292.4 933.9,290.7 935.1,290.7 L935.1,290.7 C936.3,290.7 936.8,292.4 936.8,296.5 L936.8,296.8 M933.4,332.1 L933.4,332.6 C933.4,338.5 933.9,341.1 935.1,341.1 L935.1,341.1 C936.3,341.1 936.8,338.5 936.8,332.6 L936.8,332.1 M943.1,296.8 L943.1,292.5 C943.1,287.1 947.6,284.7 958.1,284.7 L1000.0,284.7 C1010.5,284.7 1015.0,287.1 1015.0,292.5 L1015.0,292.9 M943.1,332.1 L943.1,332.6 C943.1,339.6 947.6,342.6 958.1,342.6 L1000.0,342.6 C1010.5,342.6 1015.0,339.6 1015.0,332.6 L1015.0,332.1 M1019.0,292.9 L1019.0,292.6 C1019.0,288.5 1019.9,286.7 1022.0,286.7 L1022.0,286.7 C1024.1,286.7 1025.0,288.5 1025.0,292.6 L1025.0,295.1 M1019.0,332.1 L1019.0,332.6 C1019.0,338.5 1019.9,341.1 1022.0,341.1 L1022.0,341.1 C1024.1,341.1 1025.0,338.5 1025.0,332.6 L1025.0,332.1 M1030.6,295.1 L1030.6,289.2 C1030.6,285.1 1031.2,283.4 1032.6,283.4 L1032.6,283.4 C1034.0,283.4 1034.6,285.1 1034.6,289.2 L1034.6,289.5 M1030.6,332.1 L1030.6,332.6 C1030.6,339.6 1031.2,342.6 1032.6,342.6 L1032.6,342.6 C1034.0,342.6 1034.6,339.6 1034.6,332.6 L1034.6,332.1 M1040.6,289.5 L1040.6,289.0 C1040.6,283.0 1045.1,280.4 1055.6,280.4 L1130.0,280.4 C1140.5,280.4 1145.0,283.0 1145.0,289.0 L1145.0,318.6 M1040.6,332.1 L1040.6,332.6 C1040.6,338.5 1045.1,341.1 1055.6,341.1 L1130.0,341.1 C1140.5,341.1 1145.0,338.5 1145.0,332.6 L1145.0,332.1 M1149.0,318.6 L1149.0,315.6 C1149.0,311.2 1151.6,309.4 1157.8,309.4 L1157.8,309.4 C1163.9,309.4 1166.5,311.2 1166.5,315.6 L1166.5,315.9 M1149.0,332.1 L1149.0,332.6 C1149.0,339.6 1151.6,342.6 1157.8,342.6 L1157.8,342.6 C1163.9,342.6 1166.5,339.6 1166.5,332.6 L1166.5,332.1 M1182.6,315.9 L1182.6,299.8 C1182.6,293.6 1187.1,290.9 1197.6,290.9 L1282.0,290.9 C1292.5,290.9 1297.0,293.6 1297.0,299.8 L1297.0,300.3 M1182.6,332.1 L1182.6,332.6 C1182.6,338.5 1187.1,341.1 1197.6,341.1 L1282.0,341.1 C1292.5,341.1 1297.0,338.5 1297.0,332.6 L1297.0,332.1 M1302.6,300.3 L1302.6,298.7 C1302.6,293.6 1307.1,291.4 1317.6,291.4 L1344.3,291.4 C1354.8,291.4 1359.3,293.6 1359.3,298.7 L1359.3,299.1 M1302.6,332.1 L1302.6,332.6 C1302.6,339.6 1307.1,342.6 1317.6,342.6 L1344.3,342.6 C1354.8,342.6 1359.3,339.6 1359.3,332.6 L1359.3,332.1 M1363.4,299.1 L1363.4,298.7 C1363.4,293.8 1367.9,291.7 1378.4,291.7 L1395.8,291.7 C1406.3,291.7 1410.8,293.8 1410.8,298.7 L1410.8,305.1 M1363.4,332.1 L1363.4,332.6 C1363.4,338.5 1367.9,341.1 1378.4,341.1 L1395.8,341.1 C1406.3,341.1 1410.8,338.5 1410.8,332.6 L1410.8,332.1 M1414.7,305.1 L1414.7,297.1 C1414.7,292.9 1416.0,291.1 1419.2,291.1 L1419.2,291.1 C1422.3,291.1 1423.6,292.9 1423.6,297.1 L1423.6,297.4 M1414.7,332.1 L1414.7,332.6 C1414.7,339.6 1416.0,342.6 1419.2,342.6 L1419.2,342.6 C1422.3,342.6 1423.6,339.6 1423.6,332.6 L1423.6,332.1 M1430.8,297.4 L1430.8,297.1 C1430.8,292.8 1433.2,290.9 1438.8,290.9 L1438.8,290.9 C1444.5,290.9 1446.9,292.8 1446.9,297.1 L1446.9,298.0 M1430.8,332.1 L1430.8,332.6 C1430.8,338.5 1433.2,341.1 1438.8,341.1 L1438.8,341.1 C1444.5,341.1 1446.9,338.5 1446.9,332.6 L1446.9,332.1 M1449.3,298.0 L1449.3,297.1 C1449.3,292.7 1452.1,290.8 1458.7,290.8 L1458.7,290.8 C1465.3,290.8 1468.1,292.7 1468.1,297.1 L1468.1,297.4 M1449.3,332.1 L1449.3,332.6 C1449.3,339.6 1452.1,342.6 1458.7,342.6 L1458.7,342.6 C1465.3,342.6 1468.1,339.6 1468.1,332.6 L1468.1,332.1 M1474.1,297.4 L1474.1,296.3 C1474.1,290.6 1478.6,288.1 1489.1,288.1 L1544.6,288.1 C1555.1,288.1 1559.6,290.6 1559.6,296.3 L1559.6,296.7 M1474.1,332.1 L1474.1,332.6 C1474.1,338.5 1478.6,341.1 1489.1,341.1 L1544.6,341.1 C1555.1,341.1 1559.6,338.5 1559.6,332.6 L1559.6,332.1 M1576.9,296.7 L1576.9,296.3 C1576.9,291.4 1581.4,289.3 1591.9,289.3 L1610.0,289.3 C1620.5,289.3 1625.0,291.4 1625.0,296.3 L1625.0,324.4 M1576.9,332.1 L1576.9,332.6 C1576.9,339.6 1581.4,342.6 1591.9,342.6 L1610.0,342.6 C1620.5,342.6 1625.0,339.6 1625.0,332.6 L1625.0,332.1 M1628.2,324.4 L1628.2,324.1 C1628.2,319.7 1630.8,317.9 1637.0,317.9 L1637.0,317.9 C1643.1,317.9 1645.7,319.7 1645.7,324.1 L1645.7,328.0 M1628.2,332.1 L1628.2,332.6 C1628.2,338.5 1630.8,341.1 1637.0,341.1 L1637.0,341.1 C1643.1,341.1 1645.7,338.5 1645.7,332.6 L1645.7,332.1 M1647.4,328.0 L1647.4,327.7 C1647.4,323.2 1650.9,321.3 1659.1,321.3 L1659.1,321.3 C1667.2,321.3 1670.7,323.2 1670.7,327.7 L1670.7,329.2 M1647.4,332.1 L1647.4,332.6 C1647.4,339.6 1650.9,342.6 1659.1,342.6 L1659.1,342.6 C1667.2,342.6 1670.7,339.6 1670.7,332.6 L1670.7,332.1 M1040.6,289.5 L1040.6,286.5 C1040.6,278.8 1045.1,275.5 1055.6,275.5 L1282.0,275.5 C1292.5,275.5 1297.0,278.8 1297.0,286.5 L1297.0,300.3 M1040.6,332.1 L1040.6,334.1 C1040.6,341.8 1045.1,345.1 1055.6,345.1 L1282.0,345.1 C1292.5,345.1 1297.0,341.8 1297.0,334.1 L1297.0,332.1 M943.1,296.8 L943.1,286.5 C943.1,278.8 947.6,275.5 958.1,275.5 L1019.6,275.5 C1030.1,275.5 1034.6,278.8 1034.6,286.5 L1034.6,289.5 M943.1,332.1 L943.1,334.1 C943.1,341.8 947.6,345.1 958.1,345.1 L1019.6,345.1 C1030.1,345.1 1034.6,341.8 1034.6,334.1 L1034.6,332.1 M1474.1,297.4 L1474.1,294.4 C1474.1,286.7 1478.6,283.4 1489.1,283.4 L1610.0,283.4 C1620.5,283.4 1625.0,286.7 1625.0,294.4 L1625.0,324.4 M1474.1,332.1 L1474.1,334.1 C1474.1,341.8 1478.6,345.1 1489.1,345.1 L1610.0,345.1 C1620.5,345.1 1625.0,341.8 1625.0,334.1 L1625.0,332.1 M1576.9,296.7 L1576.9,293.7 C1576.9,286.0 1581.4,282.7 1591.9,282.7 L1630.7,282.7 C1641.2,282.7 1645.7,286.0 1645.7,293.7 L1645.7,328.0 M1576.9,332.1 L1576.9,334.1 C1576.9,341.8 1581.4,345.1 1591.9,345.1 L1630.7,345.1 C1641.2,345.1 1645.7,341.8 1645.7,334.1 L1645.7,332.1 M872.5,306.1 L872.5,300.0 C872.5,292.3 875.2,289.0 881.6,289.0 L881.6,289.0 C888.1,289.0 890.8,292.3 890.8,300.0 L890.8,303.0 M872.5,332.1 L872.5,334.1 C872.5,341.8 875.2,345.1 881.6,345.1 L881.6,345.1 C888.1,345.1 890.8,341.8 890.8,334.1 L890.8,332.1 M896.6,303.0 L896.6,297.0 C896.6,289.3 899.3,286.0 905.7,286.0 L905.7,286.0 C912.0,286.0 914.7,289.3 914.7,297.0 L914.7,300.0 M896.6,332.1 L896.6,334.1 C896.6,341.8 899.3,345.1 905.7,345.1 L905.7,345.1 C912.0,345.1 914.7,341.8 914.7,334.1 L914.7,332.1 M920.5,300.0 L920.5,293.8 C920.5,286.1 922.9,282.8 928.6,282.8 L928.6,282.8 C934.4,282.8 936.8,286.1 936.8,293.8 L936.8,296.8 M920.5,332.1 L920.5,334.1 C920.5,341.8 922.9,345.1 928.6,345.1 L928.6,345.1 C934.4,345.1 936.8,341.8 936.8,334.1 L936.8,332.1 M1040.6,289.5 L1040.6,282.0 C1040.6,274.3 1045.1,271.0 1055.6,271.0 L1282.0,271.0 C1292.5,271.0 1297.0,274.3 1297.0,282.0 L1297.0,300.3 M1040.6,332.1 L1040.6,334.0 C1040.6,341.7 1045.1,345.0 1055.6,345.0 L1282.0,345.0 C1292.5,345.0 1297.0,341.7 1297.0,334.0 L1297.0,332.1 M1040.6,289.5 L1040.6,284.5 C1040.6,276.8 1045.1,273.5 1055.6,273.5 L1282.0,273.5 C1292.5,273.5 1297.0,276.8 1297.0,284.5 L1297.0,300.3 M1040.6,332.1 L1040.6,332.6 C1040.6,339.9 1045.1,343.0 1055.6,343.0 L1282.0,343.0 C1292.5,343.0 1297.0,339.9 1297.0,332.6 L1297.0,332.1 M1040.6,289.5 L1040.6,287.0 C1040.6,279.3 1045.1,276.0 1055.6,276.0 L1282.0,276.0 C1292.5,276.0 1297.0,279.3 1297.0,287.0 L1297.0,300.3 M1040.6,332.1 L1040.6,332.5 C1040.6,338.5 1045.1,341.0 1055.6,341.0 L1282.0,341.0 C1292.5,341.0 1297.0,338.5 1297.0,332.5 L1297.0,332.1 M1040.6,289.5 L1040.6,284.0 C1040.6,276.3 1045.1,273.0 1055.6,273.0 L1130.0,273.0 C1140.5,273.0 1145.0,276.3 1145.0,284.0 L1145.0,318.6 M1149.0,318.6 L1149.0,299.7 C1149.0,292.2 1153.5,289.0 1164.0,289.0 L1282.0,289.0 C1292.5,289.0 1297.0,292.2 1297.0,299.7 L1297.0,300.3 M1149.0,332.1 L1149.0,333.0 C1149.0,340.7 1153.5,344.0 1164.0,344.0 L1282.0,344.0 C1292.5,344.0 1297.0,340.7 1297.0,333.0 L1297.0,332.1 M1182.6,315.9 L1182.6,300.2 C1182.6,298.5 1187.1,297.8 1197.6,297.8 L1282.0,297.8 C1292.5,297.8 1297.0,298.5 1297.0,300.2 L1297.0,300.3 M1182.6,332.1 L1182.6,332.6 C1182.6,339.2 1187.1,342.0 1197.6,342.0 L1282.0,342.0 C1292.5,342.0 1297.0,339.2 1297.0,332.6 L1297.0,332.1 M943.1,296.8 L943.1,292.5 C943.1,286.8 947.6,284.4 958.1,284.4 L1000.0,284.4 C1010.5,284.4 1015.0,286.8 1015.0,292.5 L1015.0,292.9 M1019.0,292.9 L1019.0,289.1 C1019.0,284.1 1021.3,282.0 1026.8,282.0 L1026.8,282.0 C1032.3,282.0 1034.6,284.1 1034.6,289.1 L1034.6,289.5 M1449.3,298.0 L1449.3,296.4 C1449.3,291.9 1453.8,290.0 1464.3,290.0 L1544.6,290.0 C1555.1,290.0 1559.6,291.9 1559.6,296.4 L1559.6,296.7 M1449.3,332.1 L1449.3,332.5 C1449.3,337.7 1453.8,340.0 1464.3,340.0 L1544.6,340.0 C1555.1,340.0 1559.6,337.7 1559.6,332.5 L1559.6,332.1 M1474.1,297.4 L1474.1,297.3 C1474.1,296.4 1478.6,296.0 1489.1,296.0 L1610.0,296.0 C1620.5,296.0 1625.0,296.4 1625.0,297.3 L1625.0,324.4 M1474.1,332.1 L1474.1,332.4 C1474.1,336.3 1478.6,338.0 1489.1,338.0 L1610.0,338.0 C1620.5,338.0 1625.0,336.3 1625.0,332.4 L1625.0,332.1" fill="none" stroke="#e36a6a" stroke-width="0.8" opacity="0.5" shape-rendering="auto"/>
<rect x="286" y="288.0" width="1.2" height="45.0" fill="#000"/>
<rect x="286" y="331.9" width="1421.6" height="1.5" fill="#000" shape-rendering="auto"/>
<rect x="282" y="292.5" width="4.5" height="1.5" fill="#222"/>
<text x="278.6" y="298.5" font-size="15" fill="#3b3b3b" text-anchor="end">300</text>
<rect x="282" y="305.3" width="4.5" height="1.5" fill="#222"/>
<text x="278.6" y="311.3" font-size="15" fill="#3b3b3b" text-anchor="end">200</text>
<rect x="282" y="317.5" width="4.5" height="1.5" fill="#222"/>
<text x="278.6" y="323.5" font-size="15" fill="#3b3b3b" text-anchor="end">100</text>
<rect x="282" y="330.0" width="4.5" height="1.5" fill="#222"/>
<text x="278.6" y="336.0" font-size="15" fill="#3b3b3b" text-anchor="end">0</text>
<g fill="#0b8a93" shape-rendering="auto"><path d="M349,413.4 L350,394 L351.5,384 L354.2,382 L354.2,413.4 Z"/><rect x="458" y="384" width="2.0" height="29.4"/><rect x="550.9" y="388.2" width="4.1" height="25.2"/><rect x="667.5" y="382" width="2.1" height="31.4"/><rect x="695.1" y="385" width="6.1" height="28.4"/><rect x="720" y="392.3" width="2.6" height="21.1"/><rect x="797.8" y="391.3" width="7.9" height="22.1"/><rect x="866.3" y="391.3" width="6.2" height="22.1"/><rect x="880" y="390" width="5.6" height="23.4"/><rect x="890.8" y="385" width="5.8" height="28.4"/><rect x="903.3" y="383" width="5.8" height="30.4"/><rect x="914.7" y="385" width="5.8" height="28.4"/><rect x="926.1" y="384" width="7.3" height="29.4"/><rect x="936.8" y="381" width="6.3" height="32.4"/><rect x="1015" y="374.5" width="4.0" height="38.9"/><rect x="1025" y="382.3" width="5.6" height="31.1"/><rect x="1034.6" y="381.2" width="6.0" height="32.2"/><rect x="1145" y="410.2" width="4.0" height="3.2"/><path d="M1166.5,413.4 L1166.5,410.2 L1182.6,413.2 L1190.6,416.2 L1202.6,410.9 L1210.6,411.9 L1210.6,413.4 Z"/><rect x="1297" y="384.6" width="5.6" height="28.8"/><rect x="1359.3" y="385.8" width="4.1" height="27.6"/><rect x="1410.8" y="391.8" width="3.9" height="21.6"/><rect x="1423.6" y="385.8" width="7.2" height="27.6"/><rect x="1446.9" y="386" width="2.4" height="27.4"/><rect x="1468.1" y="383.4" width="6.0" height="30.0"/><path d="M1559.6,413.4 L1559.6,384.6 L1562.6,386.40000000000003 L1566.25,389.1 L1570.25,388.65000000000003 L1574.9,385.95000000000005 L1576.9,383.6 L1576.9,413.4 Z"/><rect x="1625" y="372.5" width="3.2" height="40.9"/><rect x="1645.7" y="380" width="1.7" height="33.4"/><path d="M1670.7,413.4 L1670.7,379.8 L1675.7,382.8 L1680.7,389.8 L1685.9,413.4 Z"/></g>
<rect x="287" y="412.4" width="1421" height="0.9" fill="#0b8a93" opacity="0.45" shape-rendering="auto"/>
<path d="M354.2,382.0 L354.2,381.5 C354.2,375.5 358.7,372.9 369.2,372.9 L443.0,372.9 C453.5,372.9 458.0,375.5 458.0,381.5 L458.0,384.0 M354.2,414.7 L354.2,415.7 C354.2,423.4 358.7,426.7 369.2,426.7 L443.0,426.7 C453.5,426.7 458.0,423.4 458.0,415.7 L458.0,414.7 M460.0,384.0 L460.0,383.6 C460.0,377.8 464.5,375.3 475.0,375.3 L535.9,375.3 C546.4,375.3 550.9,377.8 550.9,383.6 L550.9,388.2 M460.0,414.7 L460.0,417.2 C460.0,424.9 464.5,428.2 475.0,428.2 L535.9,428.2 C546.4,428.2 550.9,424.9 550.9,417.2 L550.9,414.7 M555.0,388.2 L555.0,381.5 C555.0,375.3 559.5,372.6 570.0,372.6 L652.5,372.6 C663.0,372.6 667.5,375.3 667.5,381.5 L667.5,382.0 M555.0,414.7 L555.0,415.7 C555.0,423.4 559.5,426.7 570.0,426.7 L652.5,426.7 C663.0,426.7 667.5,423.4 667.5,415.7 L667.5,414.7 M669.6,382.0 L669.6,381.7 C669.6,377.2 673.4,375.2 682.4,375.2 L682.4,375.2 C691.3,375.2 695.1,377.2 695.1,381.7 L695.1,385.0 M669.6,414.7 L669.6,417.2 C669.6,424.9 673.4,428.2 682.4,428.2 L682.4,428.2 C691.3,428.2 695.1,424.9 695.1,417.2 L695.1,414.7 M701.2,385.0 L701.2,384.7 C701.2,380.3 704.0,378.4 710.6,378.4 L710.6,378.4 C717.2,378.4 720.0,380.3 720.0,384.7 L720.0,392.3 M701.2,414.7 L701.2,415.7 C701.2,423.4 704.0,426.7 710.6,426.7 L710.6,426.7 C717.2,426.7 720.0,423.4 720.0,415.7 L720.0,414.7 M722.6,392.3 L722.6,390.9 C722.6,385.4 727.1,383.0 737.6,383.0 L782.8,383.0 C793.3,383.0 797.8,385.4 797.8,390.9 L797.8,391.3 M722.6,414.7 L722.6,417.2 C722.6,424.9 727.1,428.2 737.6,428.2 L782.8,428.2 C793.3,428.2 797.8,424.9 797.8,417.2 L797.8,414.7 M805.7,391.3 L805.7,390.9 C805.7,385.7 810.2,383.5 820.7,383.5 L851.3,383.5 C861.8,383.5 866.3,385.7 866.3,390.9 L866.3,391.3 M805.7,414.7 L805.7,415.7 C805.7,423.4 810.2,426.7 820.7,426.7 L851.3,426.7 C861.8,426.7 866.3,423.4 866.3,415.7 L866.3,414.7 M872.5,391.3 L872.5,389.7 C872.5,385.5 873.6,383.8 876.2,383.8 L876.2,383.8 C878.9,383.8 880.0,385.5 880.0,389.7 L880.0,390.0 M872.5,414.7 L872.5,417.2 C872.5,424.9 873.6,428.2 876.2,428.2 L876.2,428.2 C878.9,428.2 880.0,424.9 880.0,417.2 L880.0,414.7 M885.6,390.0 L885.6,384.7 C885.6,380.6 886.4,378.8 888.2,378.8 L888.2,378.8 C890.0,378.8 890.8,380.6 890.8,384.7 L890.8,385.0 M885.6,414.7 L885.6,415.7 C885.6,423.4 886.4,426.7 888.2,426.7 L888.2,426.7 C890.0,426.7 890.8,423.4 890.8,415.7 L890.8,414.7 M896.6,385.0 L896.6,382.7 C896.6,378.6 897.6,376.8 900.0,376.8 L900.0,376.8 C902.3,376.8 903.3,378.6 903.3,382.7 L903.3,383.0 M896.6,414.7 L896.6,417.2 C896.6,424.9 897.6,428.2 900.0,428.2 L900.0,428.2 C902.3,428.2 903.3,424.9 903.3,417.2 L903.3,414.7 M909.1,383.0 L909.1,382.7 C909.1,378.6 909.9,376.8 911.9,376.8 L911.9,376.8 C913.9,376.8 914.7,378.6 914.7,382.7 L914.7,385.0 M909.1,414.7 L909.1,415.7 C909.1,423.4 909.9,426.7 911.9,426.7 L911.9,426.7 C913.9,426.7 914.7,423.4 914.7,415.7 L914.7,414.7 M920.5,385.0 L920.5,383.7 C920.5,379.6 921.3,377.8 923.3,377.8 L923.3,377.8 C925.3,377.8 926.1,379.6 926.1,383.7 L926.1,384.0 M920.5,414.7 L920.5,417.2 C920.5,424.9 921.3,428.2 923.3,428.2 L923.3,428.2 C925.3,428.2 926.1,424.9 926.1,417.2 L926.1,414.7 M933.4,384.0 L933.4,380.7 C933.4,376.6 933.9,374.9 935.1,374.9 L935.1,374.9 C936.3,374.9 936.8,376.6 936.8,380.7 L936.8,381.0 M933.4,414.7 L933.4,415.7 C933.4,423.4 933.9,426.7 935.1,426.7 L935.1,426.7 C936.3,426.7 936.8,423.4 936.8,415.7 L936.8,414.7 M943.1,381.0 L943.1,374.1 C943.1,368.7 947.6,366.3 958.1,366.3 L1000.0,366.3 C1010.5,366.3 1015.0,368.7 1015.0,374.1 L1015.0,374.5 M943.1,414.7 L943.1,417.2 C943.1,424.9 947.6,428.2 958.1,428.2 L1000.0,428.2 C1010.5,428.2 1015.0,424.9 1015.0,417.2 L1015.0,414.7 M1019.0,374.5 L1019.0,374.2 C1019.0,370.1 1019.9,368.3 1022.0,368.3 L1022.0,368.3 C1024.1,368.3 1025.0,370.1 1025.0,374.2 L1025.0,382.3 M1019.0,414.7 L1019.0,415.7 C1019.0,423.4 1019.9,426.7 1022.0,426.7 L1022.0,426.7 C1024.1,426.7 1025.0,423.4 1025.0,415.7 L1025.0,414.7 M1030.6,382.3 L1030.6,380.9 C1030.6,376.8 1031.2,375.1 1032.6,375.1 L1032.6,375.1 C1034.0,375.1 1034.6,376.8 1034.6,380.9 L1034.6,381.2 M1030.6,414.7 L1030.6,417.2 C1030.6,424.9 1031.2,428.2 1032.6,428.2 L1032.6,428.2 C1034.0,428.2 1034.6,424.9 1034.6,417.2 L1034.6,414.7 M1040.6,381.2 L1040.6,380.7 C1040.6,374.7 1045.1,372.1 1055.6,372.1 L1130.0,372.1 C1140.5,372.1 1145.0,374.7 1145.0,380.7 L1145.0,410.2 M1040.6,414.7 L1040.6,415.7 C1040.6,423.4 1045.1,426.7 1055.6,426.7 L1130.0,426.7 C1140.5,426.7 1145.0,423.4 1145.0,415.7 L1145.0,414.7 M1149.0,410.2 L1149.0,409.9 C1149.0,405.5 1151.6,403.7 1157.8,403.7 L1157.8,403.7 C1163.9,403.7 1166.5,405.5 1166.5,409.9 L1166.5,410.2 M1149.0,414.7 L1149.0,417.2 C1149.0,424.9 1151.6,428.2 1157.8,428.2 L1157.8,428.2 C1163.9,428.2 1166.5,424.9 1166.5,417.2 L1166.5,414.7 M1182.6,410.2 L1182.6,384.1 C1182.6,377.9 1187.1,375.2 1197.6,375.2 L1282.0,375.2 C1292.5,375.2 1297.0,377.9 1297.0,384.1 L1297.0,384.6 M1182.6,414.7 L1182.6,415.7 C1182.6,423.4 1187.1,426.7 1197.6,426.7 L1282.0,426.7 C1292.5,426.7 1297.0,423.4 1297.0,415.7 L1297.0,414.7 M1302.6,384.6 L1302.6,384.2 C1302.6,379.1 1307.1,376.9 1317.6,376.9 L1344.3,376.9 C1354.8,376.9 1359.3,379.1 1359.3,384.2 L1359.3,385.8 M1302.6,414.7 L1302.6,417.2 C1302.6,424.9 1307.1,428.2 1317.6,428.2 L1344.3,428.2 C1354.8,428.2 1359.3,424.9 1359.3,417.2 L1359.3,414.7 M1363.4,385.8 L1363.4,385.4 C1363.4,380.5 1367.9,378.4 1378.4,378.4 L1395.8,378.4 C1406.3,378.4 1410.8,380.5 1410.8,385.4 L1410.8,391.8 M1363.4,414.7 L1363.4,415.7 C1363.4,423.4 1367.9,426.7 1378.4,426.7 L1395.8,426.7 C1406.3,426.7 1410.8,423.4 1410.8,415.7 L1410.8,414.7 M1414.7,391.8 L1414.7,385.5 C1414.7,381.3 1416.0,379.5 1419.2,379.5 L1419.2,379.5 C1422.3,379.5 1423.6,381.3 1423.6,385.5 L1423.6,385.8 M1414.7,414.7 L1414.7,417.2 C1414.7,424.9 1416.0,428.2 1419.2,428.2 L1419.2,428.2 C1422.3,428.2 1423.6,424.9 1423.6,417.2 L1423.6,414.7 M1430.8,385.8 L1430.8,385.5 C1430.8,381.2 1433.2,379.3 1438.8,379.3 L1438.8,379.3 C1444.5,379.3 1446.9,381.2 1446.9,385.5 L1446.9,386.0 M1430.8,414.7 L1430.8,415.7 C1430.8,423.4 1433.2,426.7 1438.8,426.7 L1438.8,426.7 C1444.5,426.7 1446.9,423.4 1446.9,415.7 L1446.9,414.7 M1449.3,386.0 L1449.3,383.1 C1449.3,378.7 1452.1,376.8 1458.7,376.8 L1458.7,376.8 C1465.3,376.8 1468.1,378.7 1468.1,383.1 L1468.1,383.4 M1449.3,414.7 L1449.3,417.2 C1449.3,424.9 1452.1,428.2 1458.7,428.2 L1458.7,428.2 C1465.3,428.2 1468.1,424.9 1468.1,417.2 L1468.1,414.7 M1474.1,383.4 L1474.1,383.0 C1474.1,377.3 1478.6,374.8 1489.1,374.8 L1544.6,374.8 C1555.1,374.8 1559.6,377.3 1559.6,383.0 L1559.6,384.6 M1474.1,414.7 L1474.1,415.7 C1474.1,423.4 1478.6,426.7 1489.1,426.7 L1544.6,426.7 C1555.1,426.7 1559.6,423.4 1559.6,415.7 L1559.6,414.7 M1576.9,384.6 L1576.9,372.1 C1576.9,367.2 1581.4,365.1 1591.9,365.1 L1610.0,365.1 C1620.5,365.1 1625.0,367.2 1625.0,372.1 L1625.0,372.5 M1576.9,414.7 L1576.9,417.2 C1576.9,424.9 1581.4,428.2 1591.9,428.2 L1610.0,428.2 C1620.5,428.2 1625.0,424.9 1625.0,417.2 L1625.0,414.7 M1628.2,372.5 L1628.2,372.2 C1628.2,367.8 1630.8,366.0 1637.0,366.0 L1637.0,366.0 C1643.1,366.0 1645.7,367.8 1645.7,372.2 L1645.7,380.0 M1628.2,414.7 L1628.2,415.7 C1628.2,423.4 1630.8,426.7 1637.0,426.7 L1637.0,426.7 C1643.1,426.7 1645.7,423.4 1645.7,415.7 L1645.7,414.7 M1647.4,380.0 L1647.4,379.5 C1647.4,375.0 1650.9,373.1 1659.1,373.1 L1659.1,373.1 C1667.2,373.1 1670.7,375.0 1670.7,379.5 L1670.7,379.8 M1647.4,414.7 L1647.4,417.2 C1647.4,424.9 1650.9,428.2 1659.1,428.2 L1659.1,428.2 C1667.2,428.2 1670.7,424.9 1670.7,417.2 L1670.7,414.7 M1040.6,381.2 L1040.6,378.2 C1040.6,370.5 1045.1,367.2 1055.6,367.2 L1282.0,367.2 C1292.5,367.2 1297.0,370.5 1297.0,378.2 L1297.0,384.6 M1040.6,414.7 L1040.6,419.7 C1040.6,427.4 1045.1,430.7 1055.6,430.7 L1282.0,430.7 C1292.5,430.7 1297.0,427.4 1297.0,419.7 L1297.0,414.7 M943.1,381.0 L943.1,378.0 C943.1,370.3 947.6,367.0 958.1,367.0 L1019.6,367.0 C1030.1,367.0 1034.6,370.3 1034.6,378.0 L1034.6,381.2 M943.1,414.7 L943.1,419.7 C943.1,427.4 947.6,430.7 958.1,430.7 L1019.6,430.7 C1030.1,430.7 1034.6,427.4 1034.6,419.7 L1034.6,414.7 M1474.1,383.4 L1474.1,369.5 C1474.1,361.8 1478.6,358.5 1489.1,358.5 L1610.0,358.5 C1620.5,358.5 1625.0,361.8 1625.0,369.5 L1625.0,372.5 M1474.1,414.7 L1474.1,419.7 C1474.1,427.4 1478.6,430.7 1489.1,430.7 L1610.0,430.7 C1620.5,430.7 1625.0,427.4 1625.0,419.7 L1625.0,414.7 M1576.9,384.6 L1576.9,377.0 C1576.9,369.3 1581.4,366.0 1591.9,366.0 L1630.7,366.0 C1641.2,366.0 1645.7,369.3 1645.7,377.0 L1645.7,380.0 M1576.9,414.7 L1576.9,419.7 C1576.9,427.4 1581.4,430.7 1591.9,430.7 L1630.7,430.7 C1641.2,430.7 1645.7,427.4 1645.7,419.7 L1645.7,414.7 M872.5,391.3 L872.5,382.0 C872.5,374.3 875.2,371.0 881.6,371.0 L881.6,371.0 C888.1,371.0 890.8,374.3 890.8,382.0 L890.8,385.0 M872.5,414.7 L872.5,419.7 C872.5,427.4 875.2,430.7 881.6,430.7 L881.6,430.7 C888.1,430.7 890.8,427.4 890.8,419.7 L890.8,414.7 M896.6,385.0 L896.6,382.0 C896.6,374.3 899.3,371.0 905.7,371.0 L905.7,371.0 C912.0,371.0 914.7,374.3 914.7,382.0 L914.7,385.0 M896.6,414.7 L896.6,419.7 C896.6,427.4 899.3,430.7 905.7,430.7 L905.7,430.7 C912.0,430.7 914.7,427.4 914.7,419.7 L914.7,414.7 M920.5,385.0 L920.5,378.0 C920.5,370.3 922.9,367.0 928.6,367.0 L928.6,367.0 C934.4,367.0 936.8,370.3 936.8,378.0 L936.8,381.0 M920.5,414.7 L920.5,419.7 C920.5,427.4 922.9,430.7 928.6,430.7 L928.6,430.7 C934.4,430.7 936.8,427.4 936.8,419.7 L936.8,414.7 M1040.6,381.2 L1040.6,379.0 C1040.6,371.3 1045.1,368.0 1055.6,368.0 L1282.0,368.0 C1292.5,368.0 1297.0,371.3 1297.0,379.0 L1297.0,384.6 M1040.6,414.7 L1040.6,419.0 C1040.6,426.7 1045.1,430.0 1055.6,430.0 L1282.0,430.0 C1292.5,430.0 1297.0,426.7 1297.0,419.0 L1297.0,414.7 M1040.6,381.2 L1040.6,380.7 C1040.6,374.6 1045.1,372.0 1055.6,372.0 L1151.5,372.0 C1162.0,372.0 1166.5,374.6 1166.5,380.7 L1166.5,410.2 M1149.0,410.2 L1149.0,384.4 C1149.0,381.3 1153.5,380.0 1164.0,380.0 L1282.0,380.0 C1292.5,380.0 1297.0,381.3 1297.0,384.4 L1297.0,384.6 M1149.0,414.7 L1149.0,416.0 C1149.0,423.7 1153.5,427.0 1164.0,427.0 L1282.0,427.0 C1292.5,427.0 1297.0,423.7 1297.0,416.0 L1297.0,414.7 M1474.1,383.4 L1474.1,370.0 C1474.1,362.3 1478.6,359.0 1489.1,359.0 L1610.0,359.0 C1620.5,359.0 1625.0,362.3 1625.0,370.0 L1625.0,372.5 M1474.1,414.7 L1474.1,417.0 C1474.1,424.7 1478.6,428.0 1489.1,428.0 L1610.0,428.0 C1620.5,428.0 1625.0,424.7 1625.0,417.0 L1625.0,414.7 M1576.9,384.6 L1576.9,373.0 C1576.9,365.3 1581.4,362.0 1591.9,362.0 L1630.7,362.0 C1641.2,362.0 1645.7,365.3 1645.7,373.0 L1645.7,380.0" fill="none" stroke="#0b8a93" stroke-width="0.8" opacity="0.5" shape-rendering="auto"/>
<rect x="286" y="370.2" width="1.2" height="45.4" fill="#000"/>
<rect x="286" y="414.5" width="1421.6" height="1.5" fill="#000" shape-rendering="auto"/>
<rect x="282" y="374.1" width="4.5" height="1.5" fill="#222"/>
<text x="278.6" y="380.1" font-size="15" fill="#3b3b3b" text-anchor="end">200</text>
<rect x="282" y="393.3" width="4.5" height="1.5" fill="#222"/>
<text x="278.6" y="399.3" font-size="15" fill="#3b3b3b" text-anchor="end">100</text>
<rect x="282" y="412.3" width="4.5" height="1.5" fill="#222"/>
<text x="278.6" y="418.3" font-size="15" fill="#3b3b3b" text-anchor="end">0</text>
<g fill="#064f78" shape-rendering="auto"><rect x="349" y="470.2" width="5.2" height="25.7"/><rect x="458" y="471.3" width="2.0" height="24.6"/><rect x="550.9" y="471.3" width="4.1" height="24.6"/><rect x="667.5" y="471.3" width="2.1" height="24.6"/><rect x="695.1" y="470.2" width="6.1" height="25.7"/><rect x="720" y="471.3" width="2.6" height="24.6"/><rect x="797.8" y="476.5" width="7.9" height="19.4"/><rect x="866.3" y="469.2" width="6.2" height="26.7"/><rect x="880" y="468.2" width="5.6" height="27.7"/><rect x="890.8" y="466" width="5.8" height="29.9"/><rect x="903.3" y="465" width="5.8" height="30.9"/><rect x="914.7" y="463" width="5.8" height="32.9"/><rect x="926.1" y="462" width="7.3" height="33.9"/><rect x="936.8" y="460" width="6.3" height="35.9"/><rect x="1015" y="459.4" width="4.0" height="36.5"/><rect x="1025" y="462.7" width="5.6" height="33.2"/><rect x="1034.6" y="455" width="6.0" height="40.9"/><rect x="1145" y="490.7" width="4.0" height="5.2"/><rect x="1166.5" y="486.2" width="16.1" height="9.7"/><rect x="1297" y="462.8" width="5.6" height="33.1"/><rect x="1359.3" y="460.4" width="4.1" height="35.5"/><rect x="1410.8" y="470" width="3.9" height="25.9"/><rect x="1423.6" y="459.2" width="7.2" height="36.7"/><rect x="1446.9" y="459" width="2.4" height="36.9"/><rect x="1468.1" y="456.8" width="6.0" height="39.1"/><rect x="1559.6" y="457.3" width="17.3" height="38.6"/><rect x="1625" y="488" width="3.2" height="7.9"/><rect x="1645.7" y="494" width="1.7" height="1.9"/><rect x="1670.7" y="492.9" width="15.2" height="3.0"/><rect x="1182.6" y="492.5" width="12.3" height="3.4"/><rect x="1194.9" y="494.5" width="15.1" height="1.4"/><rect x="354.2" y="494" width="45.8" height="1.9"/><rect x="993.7" y="494.5" width="11.2" height="1.4"/></g>
<rect x="287" y="494.9" width="1421" height="0.9" fill="#064f78" opacity="0.45" shape-rendering="auto"/>
<path d="M354.2,470.2 L354.2,469.7 C354.2,463.7 358.7,461.1 369.2,461.1 L443.0,461.1 C453.5,461.1 458.0,463.7 458.0,469.7 L458.0,471.3 M354.2,497.2 L354.2,498.2 C354.2,505.9 358.7,509.2 369.2,509.2 L443.0,509.2 C453.5,509.2 458.0,505.9 458.0,498.2 L458.0,497.2 M460.0,471.3 L460.0,470.9 C460.0,465.1 464.5,462.6 475.0,462.6 L535.9,462.6 C546.4,462.6 550.9,465.1 550.9,470.9 L550.9,471.3 M460.0,497.2 L460.0,499.7 C460.0,507.4 464.5,510.7 475.0,510.7 L535.9,510.7 C546.4,510.7 550.9,507.4 550.9,499.7 L550.9,497.2 M555.0,471.3 L555.0,470.8 C555.0,464.6 559.5,461.9 570.0,461.9 L652.5,461.9 C663.0,461.9 667.5,464.6 667.5,470.8 L667.5,471.3 M555.0,497.2 L555.0,498.2 C555.0,505.9 559.5,509.2 570.0,509.2 L652.5,509.2 C663.0,509.2 667.5,505.9 667.5,498.2 L667.5,497.2 M669.6,471.3 L669.6,469.9 C669.6,465.4 673.4,463.4 682.4,463.4 L682.4,463.4 C691.3,463.4 695.1,465.4 695.1,469.9 L695.1,470.2 M669.6,497.2 L669.6,499.7 C669.6,507.4 673.4,510.7 682.4,510.7 L682.4,510.7 C691.3,510.7 695.1,507.4 695.1,499.7 L695.1,497.2 M701.2,470.2 L701.2,469.9 C701.2,465.5 704.0,463.6 710.6,463.6 L710.6,463.6 C717.2,463.6 720.0,465.5 720.0,469.9 L720.0,471.3 M701.2,497.2 L701.2,498.2 C701.2,505.9 704.0,509.2 710.6,509.2 L710.6,509.2 C717.2,509.2 720.0,505.9 720.0,498.2 L720.0,497.2 M722.6,471.3 L722.6,470.9 C722.6,465.4 727.1,463.0 737.6,463.0 L782.8,463.0 C793.3,463.0 797.8,465.4 797.8,470.9 L797.8,476.5 M722.6,497.2 L722.6,499.7 C722.6,507.4 727.1,510.7 737.6,510.7 L782.8,510.7 C793.3,510.7 797.8,507.4 797.8,499.7 L797.8,497.2 M805.7,476.5 L805.7,468.8 C805.7,463.6 810.2,461.4 820.7,461.4 L851.3,461.4 C861.8,461.4 866.3,463.6 866.3,468.8 L866.3,469.2 M805.7,497.2 L805.7,498.2 C805.7,505.9 810.2,509.2 820.7,509.2 L851.3,509.2 C861.8,509.2 866.3,505.9 866.3,498.2 L866.3,497.2 M872.5,469.2 L872.5,467.9 C872.5,463.7 873.6,462.0 876.2,462.0 L876.2,462.0 C878.9,462.0 880.0,463.7 880.0,467.9 L880.0,468.2 M872.5,497.2 L872.5,499.7 C872.5,507.4 873.6,510.7 876.2,510.7 L876.2,510.7 C878.9,510.7 880.0,507.4 880.0,499.7 L880.0,497.2 M885.6,468.2 L885.6,465.7 C885.6,461.6 886.4,459.8 888.2,459.8 L888.2,459.8 C890.0,459.8 890.8,461.6 890.8,465.7 L890.8,466.0 M885.6,497.2 L885.6,498.2 C885.6,505.9 886.4,509.2 888.2,509.2 L888.2,509.2 C890.0,509.2 890.8,505.9 890.8,498.2 L890.8,497.2 M896.6,466.0 L896.6,464.7 C896.6,460.6 897.6,458.8 900.0,458.8 L900.0,458.8 C902.3,458.8 903.3,460.6 903.3,464.7 L903.3,465.0 M896.6,497.2 L896.6,499.7 C896.6,507.4 897.6,510.7 900.0,510.7 L900.0,510.7 C902.3,510.7 903.3,507.4 903.3,499.7 L903.3,497.2 M909.1,465.0 L909.1,462.7 C909.1,458.6 909.9,456.8 911.9,456.8 L911.9,456.8 C913.9,456.8 914.7,458.6 914.7,462.7 L914.7,463.0 M909.1,497.2 L909.1,498.2 C909.1,505.9 909.9,509.2 911.9,509.2 L911.9,509.2 C913.9,509.2 914.7,505.9 914.7,498.2 L914.7,497.2 M920.5,463.0 L920.5,461.7 C920.5,457.6 921.3,455.8 923.3,455.8 L923.3,455.8 C925.3,455.8 926.1,457.6 926.1,461.7 L926.1,462.0 M920.5,497.2 L920.5,499.7 C920.5,507.4 921.3,510.7 923.3,510.7 L923.3,510.7 C925.3,510.7 926.1,507.4 926.1,499.7 L926.1,497.2 M933.4,462.0 L933.4,459.7 C933.4,455.6 933.9,453.9 935.1,453.9 L935.1,453.9 C936.3,453.9 936.8,455.6 936.8,459.7 L936.8,460.0 M933.4,497.2 L933.4,498.2 C933.4,505.9 933.9,509.2 935.1,509.2 L935.1,509.2 C936.3,509.2 936.8,505.9 936.8,498.2 L936.8,497.2 M943.1,460.0 L943.1,459.0 C943.1,453.6 947.6,451.2 958.1,451.2 L1000.0,451.2 C1010.5,451.2 1015.0,453.6 1015.0,459.0 L1015.0,459.4 M943.1,497.2 L943.1,499.7 C943.1,507.4 947.6,510.7 958.1,510.7 L1000.0,510.7 C1010.5,510.7 1015.0,507.4 1015.0,499.7 L1015.0,497.2 M1019.0,459.4 L1019.0,459.1 C1019.0,455.0 1019.9,453.2 1022.0,453.2 L1022.0,453.2 C1024.1,453.2 1025.0,455.0 1025.0,459.1 L1025.0,462.7 M1019.0,497.2 L1019.0,498.2 C1019.0,505.9 1019.9,509.2 1022.0,509.2 L1022.0,509.2 C1024.1,509.2 1025.0,505.9 1025.0,498.2 L1025.0,497.2 M1030.6,462.7 L1030.6,454.7 C1030.6,450.6 1031.2,448.9 1032.6,448.9 L1032.6,448.9 C1034.0,448.9 1034.6,450.6 1034.6,454.7 L1034.6,455.0 M1030.6,497.2 L1030.6,499.7 C1030.6,507.4 1031.2,510.7 1032.6,510.7 L1032.6,510.7 C1034.0,510.7 1034.6,507.4 1034.6,499.7 L1034.6,497.2 M1040.6,455.0 L1040.6,454.5 C1040.6,448.5 1045.1,445.9 1055.6,445.9 L1130.0,445.9 C1140.5,445.9 1145.0,448.5 1145.0,454.5 L1145.0,490.7 M1040.6,497.2 L1040.6,498.2 C1040.6,505.9 1045.1,509.2 1055.6,509.2 L1130.0,509.2 C1140.5,509.2 1145.0,505.9 1145.0,498.2 L1145.0,497.2 M1149.0,490.7 L1149.0,485.9 C1149.0,481.5 1151.6,479.7 1157.8,479.7 L1157.8,479.7 C1163.9,479.7 1166.5,481.5 1166.5,485.9 L1166.5,486.2 M1149.0,497.2 L1149.0,499.7 C1149.0,507.4 1151.6,510.7 1157.8,510.7 L1157.8,510.7 C1163.9,510.7 1166.5,507.4 1166.5,499.7 L1166.5,497.2 M1182.6,486.2 L1182.6,462.3 C1182.6,456.1 1187.1,453.4 1197.6,453.4 L1282.0,453.4 C1292.5,453.4 1297.0,456.1 1297.0,462.3 L1297.0,462.8 M1182.6,497.2 L1182.6,498.2 C1182.6,505.9 1187.1,509.2 1197.6,509.2 L1282.0,509.2 C1292.5,509.2 1297.0,505.9 1297.0,498.2 L1297.0,497.2 M1302.6,462.8 L1302.6,460.0 C1302.6,454.9 1307.1,452.7 1317.6,452.7 L1344.3,452.7 C1354.8,452.7 1359.3,454.9 1359.3,460.0 L1359.3,460.4 M1302.6,497.2 L1302.6,499.7 C1302.6,507.4 1307.1,510.7 1317.6,510.7 L1344.3,510.7 C1354.8,510.7 1359.3,507.4 1359.3,499.7 L1359.3,497.2 M1363.4,460.4 L1363.4,460.0 C1363.4,455.1 1367.9,453.0 1378.4,453.0 L1395.8,453.0 C1406.3,453.0 1410.8,455.1 1410.8,460.0 L1410.8,470.0 M1363.4,497.2 L1363.4,498.2 C1363.4,505.9 1367.9,509.2 1378.4,509.2 L1395.8,509.2 C1406.3,509.2 1410.8,505.9 1410.8,498.2 L1410.8,497.2 M1414.7,470.0 L1414.7,458.9 C1414.7,454.7 1416.0,452.9 1419.2,452.9 L1419.2,452.9 C1422.3,452.9 1423.6,454.7 1423.6,458.9 L1423.6,459.2 M1414.7,497.2 L1414.7,499.7 C1414.7,507.4 1416.0,510.7 1419.2,510.7 L1419.2,510.7 C1422.3,510.7 1423.6,507.4 1423.6,499.7 L1423.6,497.2 M1430.8,459.2 L1430.8,458.7 C1430.8,454.4 1433.2,452.5 1438.8,452.5 L1438.8,452.5 C1444.5,452.5 1446.9,454.4 1446.9,458.7 L1446.9,459.0 M1430.8,497.2 L1430.8,498.2 C1430.8,505.9 1433.2,509.2 1438.8,509.2 L1438.8,509.2 C1444.5,509.2 1446.9,505.9 1446.9,498.2 L1446.9,497.2 M1449.3,459.0 L1449.3,456.5 C1449.3,452.1 1452.1,450.2 1458.7,450.2 L1458.7,450.2 C1465.3,450.2 1468.1,452.1 1468.1,456.5 L1468.1,456.8 M1449.3,497.2 L1449.3,499.7 C1449.3,507.4 1452.1,510.7 1458.7,510.7 L1458.7,510.7 C1465.3,510.7 1468.1,507.4 1468.1,499.7 L1468.1,497.2 M1474.1,456.8 L1474.1,456.4 C1474.1,450.7 1478.6,448.2 1489.1,448.2 L1544.6,448.2 C1555.1,448.2 1559.6,450.7 1559.6,456.4 L1559.6,457.3 M1474.1,497.2 L1474.1,498.2 C1474.1,505.9 1478.6,509.2 1489.1,509.2 L1544.6,509.2 C1555.1,509.2 1559.6,505.9 1559.6,498.2 L1559.6,497.2 M1576.9,457.3 L1576.9,456.9 C1576.9,452.0 1581.4,449.9 1591.9,449.9 L1610.0,449.9 C1620.5,449.9 1625.0,452.0 1625.0,456.9 L1625.0,488.0 M1576.9,497.2 L1576.9,499.7 C1576.9,507.4 1581.4,510.7 1591.9,510.7 L1610.0,510.7 C1620.5,510.7 1625.0,507.4 1625.0,499.7 L1625.0,497.2 M1628.2,488.0 L1628.2,487.7 C1628.2,483.3 1630.8,481.5 1637.0,481.5 L1637.0,481.5 C1643.1,481.5 1645.7,483.3 1645.7,487.7 L1645.7,494.0 M1628.2,497.2 L1628.2,498.2 C1628.2,505.9 1630.8,509.2 1637.0,509.2 L1637.0,509.2 C1643.1,509.2 1645.7,505.9 1645.7,498.2 L1645.7,497.2 M1647.4,494.0 L1647.4,492.6 C1647.4,488.1 1650.9,486.2 1659.1,486.2 L1659.1,486.2 C1667.2,486.2 1670.7,488.1 1670.7,492.6 L1670.7,492.9 M1647.4,497.2 L1647.4,499.7 C1647.4,507.4 1650.9,510.7 1659.1,510.7 L1659.1,510.7 C1667.2,510.7 1670.7,507.4 1670.7,499.7 L1670.7,497.2 M1040.6,455.0 L1040.6,452.0 C1040.6,444.3 1045.1,441.0 1055.6,441.0 L1282.0,441.0 C1292.5,441.0 1297.0,444.3 1297.0,452.0 L1297.0,462.8 M1040.6,497.2 L1040.6,502.2 C1040.6,509.9 1045.1,513.2 1055.6,513.2 L1282.0,513.2 C1292.5,513.2 1297.0,509.9 1297.0,502.2 L1297.0,497.2 M943.1,460.0 L943.1,452.0 C943.1,444.3 947.6,441.0 958.1,441.0 L1019.6,441.0 C1030.1,441.0 1034.6,444.3 1034.6,452.0 L1034.6,455.0 M943.1,497.2 L943.1,502.2 C943.1,509.9 947.6,513.2 958.1,513.2 L1019.6,513.2 C1030.1,513.2 1034.6,509.9 1034.6,502.2 L1034.6,497.2 M1474.1,456.8 L1474.1,453.8 C1474.1,446.1 1478.6,442.8 1489.1,442.8 L1610.0,442.8 C1620.5,442.8 1625.0,446.1 1625.0,453.8 L1625.0,488.0 M1474.1,497.2 L1474.1,502.2 C1474.1,509.9 1478.6,513.2 1489.1,513.2 L1610.0,513.2 C1620.5,513.2 1625.0,509.9 1625.0,502.2 L1625.0,497.2 M1576.9,457.3 L1576.9,454.3 C1576.9,446.6 1581.4,443.3 1591.9,443.3 L1630.7,443.3 C1641.2,443.3 1645.7,446.6 1645.7,454.3 L1645.7,494.0 M1576.9,497.2 L1576.9,502.2 C1576.9,509.9 1581.4,513.2 1591.9,513.2 L1630.7,513.2 C1641.2,513.2 1645.7,509.9 1645.7,502.2 L1645.7,497.2 M872.5,469.2 L872.5,463.0 C872.5,455.3 875.2,452.0 881.6,452.0 L881.6,452.0 C888.1,452.0 890.8,455.3 890.8,463.0 L890.8,466.0 M872.5,497.2 L872.5,502.2 C872.5,509.9 875.2,513.2 881.6,513.2 L881.6,513.2 C888.1,513.2 890.8,509.9 890.8,502.2 L890.8,497.2 M896.6,466.0 L896.6,460.0 C896.6,452.3 899.3,449.0 905.7,449.0 L905.7,449.0 C912.0,449.0 914.7,452.3 914.7,460.0 L914.7,463.0 M896.6,497.2 L896.6,502.2 C896.6,509.9 899.3,513.2 905.7,513.2 L905.7,513.2 C912.0,513.2 914.7,509.9 914.7,502.2 L914.7,497.2 M920.5,463.0 L920.5,457.0 C920.5,449.3 922.9,446.0 928.6,446.0 L928.6,446.0 C934.4,446.0 936.8,449.3 936.8,457.0 L936.8,460.0 M920.5,497.2 L920.5,502.2 C920.5,509.9 922.9,513.2 928.6,513.2 L928.6,513.2 C934.4,513.2 936.8,509.9 936.8,502.2 L936.8,497.2 M1040.6,455.0 L1040.6,454.7 C1040.6,450.7 1045.1,449.0 1055.6,449.0 L1282.0,449.0 C1292.5,449.0 1297.0,450.7 1297.0,454.7 L1297.0,462.8 M1040.6,497.2 L1040.6,499.0 C1040.6,506.7 1045.1,510.0 1055.6,510.0 L1282.0,510.0 C1292.5,510.0 1297.0,506.7 1297.0,499.0 L1297.0,497.2 M1040.6,455.0 L1040.6,454.8 C1040.6,452.5 1045.1,451.5 1055.6,451.5 L1282.0,451.5 C1292.5,451.5 1297.0,452.5 1297.0,454.8 L1297.0,462.8 M1040.6,497.2 L1040.6,497.7 C1040.6,504.9 1045.1,508.0 1055.6,508.0 L1282.0,508.0 C1292.5,508.0 1297.0,504.9 1297.0,497.7 L1297.0,497.2 M1040.6,455.0 L1040.6,454.9 C1040.6,454.3 1045.1,454.0 1055.6,454.0 L1282.0,454.0 C1292.5,454.0 1297.0,454.3 1297.0,454.9 L1297.0,462.8 M1040.6,497.2 L1040.6,497.6 C1040.6,503.5 1045.1,506.0 1055.6,506.0 L1282.0,506.0 C1292.5,506.0 1297.0,503.5 1297.0,497.6 L1297.0,497.2 M1149.0,490.7 L1149.0,463.1 C1149.0,466.5 1153.5,468.0 1164.0,468.0 L1282.0,468.0 C1292.5,468.0 1297.0,466.5 1297.0,463.1 L1297.0,462.8 M1149.0,497.2 L1149.0,498.0 C1149.0,505.7 1153.5,509.0 1164.0,509.0 L1282.0,509.0 C1292.5,509.0 1297.0,505.7 1297.0,498.0 L1297.0,497.2 M1182.6,486.2 L1182.6,463.3 C1182.6,469.4 1187.1,472.0 1197.6,472.0 L1282.0,472.0 C1292.5,472.0 1297.0,469.4 1297.0,463.3 L1297.0,462.8 M1182.6,497.2 L1182.6,497.7 C1182.6,504.2 1187.1,507.0 1197.6,507.0 L1282.0,507.0 C1292.5,507.0 1297.0,504.2 1297.0,497.7 L1297.0,497.2 M1449.3,459.0 L1449.3,457.0 C1449.3,453.5 1453.8,452.0 1464.3,452.0 L1544.6,452.0 C1555.1,452.0 1559.6,453.5 1559.6,457.0 L1559.6,457.3 M1449.3,497.2 L1449.3,499.0 C1449.3,506.7 1453.8,510.0 1464.3,510.0 L1544.6,510.0 C1555.1,510.0 1559.6,506.7 1559.6,499.0 L1559.6,497.2 M1474.1,456.8 L1474.1,456.7 C1474.1,455.5 1478.6,455.0 1489.1,455.0 L1610.0,455.0 C1620.5,455.0 1625.0,455.5 1625.0,456.7 L1625.0,488.0 M1474.1,497.2 L1474.1,497.6 C1474.1,503.5 1478.6,506.0 1489.1,506.0 L1610.0,506.0 C1620.5,506.0 1625.0,503.5 1625.0,497.6 L1625.0,497.2" fill="none" stroke="#064f78" stroke-width="0.8" opacity="0.5" shape-rendering="auto"/>
<rect x="286" y="452.5" width="1.2" height="45.6" fill="#000"/>
<rect x="286" y="497.0" width="1421.6" height="1.5" fill="#000" shape-rendering="auto"/>
<rect x="282" y="452.8" width="4.5" height="1.5" fill="#222"/>
<text x="278.6" y="458.8" font-size="15" fill="#3b3b3b" text-anchor="end">300</text>
<rect x="282" y="466.9" width="4.5" height="1.5" fill="#222"/>
<text x="278.6" y="472.9" font-size="15" fill="#3b3b3b" text-anchor="end">200</text>
<rect x="282" y="480.6" width="4.5" height="1.5" fill="#222"/>
<text x="278.6" y="486.6" font-size="15" fill="#3b3b3b" text-anchor="end">100</text>
<rect x="282" y="494.4" width="4.5" height="1.5" fill="#222"/>
<text x="278.6" y="500.4" font-size="15" fill="#3b3b3b" text-anchor="end">0</text>
<rect x="421.3" y="497.3" width="1.7" height="4.5" fill="#222"/>
<rect x="734.9" y="497.3" width="1.7" height="4.5" fill="#222"/>
<rect x="1048.5" y="497.3" width="1.7" height="4.5" fill="#222"/>
<rect x="1362.2" y="497.3" width="1.7" height="4.5" fill="#222"/>
<rect x="1675.8" y="497.3" width="1.7" height="4.5" fill="#222"/>
<svg x="0" y="495" width="1707.6" height="30" overflow="hidden">
<text x="422.1" y="21.5" font-size="15" fill="#3b3b3b" text-anchor="middle" textLength="73" lengthAdjust="spacingAndGlyphs">150360000</text>
<text x="735.7" y="21.5" font-size="15" fill="#3b3b3b" text-anchor="middle" textLength="73" lengthAdjust="spacingAndGlyphs">150370000</text>
<text x="1049.3" y="21.5" font-size="15" fill="#3b3b3b" text-anchor="middle" textLength="73" lengthAdjust="spacingAndGlyphs">150380000</text>
<text x="1363.0" y="21.5" font-size="15" fill="#3b3b3b" text-anchor="middle" textLength="73" lengthAdjust="spacingAndGlyphs">150390000</text>
<text x="1676.6" y="21.5" font-size="15" fill="#3b3b3b" text-anchor="middle" textLength="73" lengthAdjust="spacingAndGlyphs">150400000</text>
</svg>
<rect x="329.0" y="541.4" width="1376.0" height="347.5" fill="#f4f0f1"/>
<rect x="329.0" y="914.4" width="1379.3" height="401.6" fill="#f4f0f1"/>
<clipPath id="cp1"><rect x="340.6" y="541.7" width="707.4" height="38.0" fill="#000"/><rect x="1048.0" y="541.7" width="117.0" height="32.4" fill="#000"/><rect x="690.0" y="579.7" width="105.0" height="8.8" fill="#000"/><rect x="795.0" y="579.7" width="67.0" height="11.9" fill="#000"/><rect x="862.0" y="579.7" width="13.0" height="14.2" fill="#000"/><rect x="875.0" y="579.7" width="7.0" height="18.3" fill="#000"/><rect x="882.0" y="579.7" width="11.0" height="20.3" fill="#000"/><rect x="893.0" y="579.7" width="17.0" height="23.6" fill="#000"/><rect x="910.0" y="579.7" width="13.0" height="25.3" fill="#000"/><rect x="923.0" y="579.7" width="7.0" height="30.5" fill="#000"/><rect x="930.0" y="579.7" width="7.5" height="38.3" fill="#000"/><rect x="937.5" y="579.7" width="110.5" height="45.3" fill="#000"/><rect x="1048.0" y="579.6" width="117.0" height="38.4" fill="#000"/><rect x="1165.0" y="541.7" width="413.7" height="4.1" fill="#000"/><rect x="1165.0" y="580.0" width="413.7" height="1.4" fill="#000"/><rect x="1165.0" y="582.5" width="413.7" height="1.4" fill="#000"/><rect x="1165.0" y="585.1" width="413.7" height="1.4" fill="#000"/><rect x="545.0" y="580.6" width="145.0" height="1.0" fill="#000"/><rect x="543.0" y="584.7" width="147.0" height="1.0" fill="#000"/></clipPath>
<g fill="#89adbf"><rect x="340.6" y="541.7" width="707.4" height="38.0" fill="#89adbf"/><rect x="1048.0" y="541.7" width="117.0" height="32.4" fill="#89adbf"/><rect x="690.0" y="579.7" width="105.0" height="8.8" fill="#89adbf"/><rect x="795.0" y="579.7" width="67.0" height="11.9" fill="#89adbf"/><rect x="862.0" y="579.7" width="13.0" height="14.2" fill="#89adbf"/><rect x="875.0" y="579.7" width="7.0" height="18.3" fill="#89adbf"/><rect x="882.0" y="579.7" width="11.0" height="20.3" fill="#89adbf"/><rect x="893.0" y="579.7" width="17.0" height="23.6" fill="#89adbf"/><rect x="910.0" y="579.7" width="13.0" height="25.3" fill="#89adbf"/><rect x="923.0" y="579.7" width="7.0" height="30.5" fill="#89adbf"/><rect x="930.0" y="579.7" width="7.5" height="38.3" fill="#89adbf"/><rect x="937.5" y="579.7" width="110.5" height="45.3" fill="#89adbf"/><rect x="1048.0" y="579.6" width="117.0" height="38.4" fill="#89adbf"/><rect x="1165.0" y="541.7" width="413.7" height="4.1" fill="#89adbf"/><rect x="1165.0" y="580.0" width="413.7" height="1.4" fill="#89adbf"/><rect x="1165.0" y="582.5" width="413.7" height="1.4" fill="#89adbf"/><rect x="1165.0" y="585.1" width="413.7" height="1.4" fill="#89adbf"/><rect x="545.0" y="580.6" width="145.0" height="1.0" fill="#89adbf"/><rect x="543.0" y="584.7" width="147.0" height="1.0" fill="#89adbf"/></g>
<g clip-path="url(#cp1)"><rect x="340.6" y="541.4" width="5.6" height="87.5" fill="#c4c4c4"/><rect x="451.0" y="541.4" width="2.0" height="87.5" fill="#c4c4c4"/><rect x="545.0" y="541.4" width="3.0" height="87.5" fill="#c4c4c4"/><rect x="662.0" y="541.4" width="2.0" height="87.5" fill="#c4c4c4"/><rect x="690.5" y="541.4" width="5.5" height="87.5" fill="#c4c4c4"/><rect x="715.5" y="541.4" width="3.0" height="87.5" fill="#c4c4c4"/><rect x="794.5" y="541.4" width="6.0" height="87.5" fill="#c4c4c4"/><rect x="862.5" y="541.4" width="6.0" height="87.5" fill="#c4c4c4"/><rect x="876.0" y="541.4" width="6.5" height="87.5" fill="#c4c4c4"/><rect x="887.5" y="541.4" width="6.0" height="87.5" fill="#c4c4c4"/><rect x="922.0" y="541.4" width="8.0" height="87.5" fill="#c4c4c4"/><rect x="933.5" y="541.4" width="5.5" height="87.5" fill="#c4c4c4"/><rect x="1013.0" y="541.4" width="4.2" height="87.5" fill="#c4c4c4"/><rect x="1023.0" y="541.4" width="6.0" height="87.5" fill="#c4c4c4"/><rect x="1032.5" y="541.4" width="5.8" height="87.5" fill="#c4c4c4"/><rect x="1296.8" y="541.4" width="4.7" height="87.5" fill="#c4c4c4"/><rect x="1359.3" y="541.4" width="4.2" height="87.5" fill="#c4c4c4"/><rect x="1411.5" y="541.4" width="4.0" height="87.5" fill="#c4c4c4"/><rect x="1424.5" y="541.4" width="6.5" height="87.5" fill="#c4c4c4"/><rect x="1447.5" y="541.4" width="3.0" height="87.5" fill="#c4c4c4"/><rect x="1469.5" y="541.4" width="5.5" height="87.5" fill="#c4c4c4"/><rect x="1561.0" y="541.4" width="18.0" height="87.5" fill="#c4c4c4"/></g>
<rect x="1165.0" y="545.7" width="15.8" height="28.4" fill="#c4c4c4"/>
<rect x="1180.8" y="545.7" width="12.2" height="12.1" fill="#c4c4c4"/>
<rect x="1165.0" y="587.0" width="15.8" height="31.0" fill="#c4c4c4"/>
<rect x="1180.8" y="600.0" width="12.2" height="6.0" fill="#c4c4c4"/>
<rect x="1164.2" y="545.7" width="1.2" height="81.3" fill="#d08a3a"/>
<rect x="1030.7" y="541.7" width="1.1" height="85.3" fill="#3a55b0"/>
<rect x="690.0" y="580.1" width="358.0" height="0.9" fill="#ffffff"/>
<rect x="690.0" y="583.0" width="358.0" height="0.9" fill="#ffffff"/>
<rect x="690.0" y="585.6" width="358.0" height="0.9" fill="#ffffff"/>
<rect x="900.5" y="541.7" width="1.7" height="64.3" fill="#e03030"/>
<rect x="911.5" y="541.7" width="1.7" height="78.3" fill="#e03030"/>
<rect x="914.6" y="541.7" width="1.4" height="78.3" fill="#d08a3a"/>
<clipPath id="cp2"><rect x="340.6" y="633.2" width="350.9" height="55.5" fill="#000"/><rect x="340.6" y="696.8" width="350.9" height="13.0" fill="#000"/><rect x="691.5" y="633.2" width="24.5" height="76.6" fill="#000"/><rect x="716.0" y="633.2" width="78.0" height="77.0" fill="#000"/><rect x="794.0" y="633.2" width="68.0" height="80.8" fill="#000"/><rect x="862.0" y="633.2" width="6.0" height="82.5" fill="#000"/><rect x="868.0" y="633.2" width="8.0" height="87.6" fill="#000"/><rect x="876.0" y="633.2" width="6.0" height="91.1" fill="#000"/><rect x="882.0" y="633.2" width="11.0" height="97.1" fill="#000"/><rect x="893.0" y="633.2" width="10.0" height="103.1" fill="#000"/><rect x="903.0" y="633.2" width="12.0" height="106.5" fill="#000"/><rect x="915.0" y="633.2" width="13.0" height="113.4" fill="#000"/><rect x="928.0" y="633.2" width="10.0" height="118.6" fill="#000"/><rect x="938.0" y="633.2" width="99.0" height="119.4" fill="#000"/><rect x="938.0" y="757.8" width="99.0" height="12.9" fill="#000"/><rect x="1037.0" y="633.2" width="128.0" height="144.4" fill="#000"/><rect x="1165.0" y="633.2" width="413.7" height="61.3" fill="#000"/><rect x="1165.0" y="710.6" width="413.7" height="43.6" fill="#000"/><rect x="1165.0" y="755.0" width="413.7" height="3.0" fill="#000"/><rect x="1165.0" y="771.0" width="413.7" height="7.0" fill="#000"/><rect x="547.0" y="753.6" width="391.0" height="1.2" fill="#000"/><rect x="692.0" y="758.8" width="246.0" height="1.2" fill="#000"/><rect x="862.0" y="760.0" width="76.0" height="3.0" fill="#000"/></clipPath>
<g fill="#89adbf"><rect x="340.6" y="633.2" width="350.9" height="55.5" fill="#89adbf"/><rect x="340.6" y="696.8" width="350.9" height="13.0" fill="#89adbf"/><rect x="691.5" y="633.2" width="24.5" height="76.6" fill="#89adbf"/><rect x="716.0" y="633.2" width="78.0" height="77.0" fill="#89adbf"/><rect x="794.0" y="633.2" width="68.0" height="80.8" fill="#89adbf"/><rect x="862.0" y="633.2" width="6.0" height="82.5" fill="#89adbf"/><rect x="868.0" y="633.2" width="8.0" height="87.6" fill="#89adbf"/><rect x="876.0" y="633.2" width="6.0" height="91.1" fill="#89adbf"/><rect x="882.0" y="633.2" width="11.0" height="97.1" fill="#89adbf"/><rect x="893.0" y="633.2" width="10.0" height="103.1" fill="#89adbf"/><rect x="903.0" y="633.2" width="12.0" height="106.5" fill="#89adbf"/><rect x="915.0" y="633.2" width="13.0" height="113.4" fill="#89adbf"/><rect x="928.0" y="633.2" width="10.0" height="118.6" fill="#89adbf"/><rect x="938.0" y="633.2" width="99.0" height="119.4" fill="#89adbf"/><rect x="938.0" y="757.8" width="99.0" height="12.9" fill="#89adbf"/><rect x="1037.0" y="633.2" width="128.0" height="144.4" fill="#89adbf"/><rect x="1165.0" y="633.2" width="413.7" height="61.3" fill="#89adbf"/><rect x="1165.0" y="710.6" width="413.7" height="43.6" fill="#89adbf"/><rect x="1165.0" y="755.0" width="413.7" height="3.0" fill="#89adbf"/><rect x="1165.0" y="771.0" width="413.7" height="7.0" fill="#89adbf"/><rect x="547.0" y="753.6" width="391.0" height="1.2" fill="#89adbf"/><rect x="692.0" y="758.8" width="246.0" height="1.2" fill="#89adbf"/><rect x="862.0" y="760.0" width="76.0" height="3.0" fill="#89adbf"/></g>
<g clip-path="url(#cp2)"><rect x="340.6" y="632.0" width="5.6" height="147.0" fill="#c4c4c4"/><rect x="451.0" y="632.0" width="2.0" height="147.0" fill="#c4c4c4"/><rect x="545.0" y="632.0" width="3.0" height="147.0" fill="#c4c4c4"/><rect x="662.0" y="632.0" width="2.0" height="147.0" fill="#c4c4c4"/><rect x="690.5" y="632.0" width="5.5" height="147.0" fill="#c4c4c4"/><rect x="715.5" y="632.0" width="3.0" height="147.0" fill="#c4c4c4"/><rect x="794.5" y="632.0" width="6.0" height="147.0" fill="#c4c4c4"/><rect x="862.5" y="632.0" width="6.0" height="147.0" fill="#c4c4c4"/><rect x="876.0" y="632.0" width="6.5" height="147.0" fill="#c4c4c4"/><rect x="887.5" y="632.0" width="6.0" height="147.0" fill="#c4c4c4"/><rect x="922.0" y="632.0" width="8.0" height="147.0" fill="#c4c4c4"/><rect x="933.5" y="632.0" width="5.5" height="147.0" fill="#c4c4c4"/><rect x="1013.0" y="632.0" width="4.2" height="147.0" fill="#c4c4c4"/><rect x="1023.0" y="632.0" width="6.0" height="147.0" fill="#c4c4c4"/><rect x="1032.5" y="632.0" width="5.8" height="147.0" fill="#c4c4c4"/><rect x="1296.8" y="632.0" width="4.7" height="147.0" fill="#c4c4c4"/><rect x="1359.3" y="632.0" width="4.2" height="147.0" fill="#c4c4c4"/><rect x="1411.5" y="632.0" width="4.0" height="147.0" fill="#c4c4c4"/><rect x="1424.5" y="632.0" width="6.5" height="147.0" fill="#c4c4c4"/><rect x="1447.5" y="632.0" width="3.0" height="147.0" fill="#c4c4c4"/><rect x="1469.5" y="632.0" width="5.5" height="147.0" fill="#c4c4c4"/><rect x="1561.0" y="632.0" width="18.0" height="147.0" fill="#c4c4c4"/></g>
<rect x="1164.5" y="696.8" width="16.3" height="13.4" fill="#c4c4c4"/>
<rect x="1164.5" y="759.0" width="16.3" height="10.3" fill="#c4c4c4"/>
<rect x="340.6" y="695.8" width="375.4" height="0.8" fill="#ffffff"/>
<rect x="1165.0" y="694.6" width="413.7" height="0.8" fill="#ffffff"/>
<rect x="1059.6" y="769.3" width="105.4" height="1.4" fill="#ffffff"/>
<rect x="1578.7" y="633.4" width="48.3" height="8.2" fill="#89adbf"/>
<rect x="1627.0" y="633.4" width="3.5" height="8.2" fill="#c4c4c4"/>
<rect x="1578.7" y="633.4" width="110.3" height="1.6" fill="#89adbf"/>
<rect x="1578.7" y="714.7" width="48.3" height="4.0" fill="#89adbf"/>
<rect x="1578.7" y="688.6" width="51.3" height="1.0" fill="#89adbf"/>
<rect x="1578.7" y="710.8" width="110.3" height="1.0" fill="#89adbf"/>
<rect x="1578.7" y="754.6" width="51.3" height="1.4" fill="#89adbf"/>
<clipPath id="cp3"><rect x="340.6" y="782.8" width="1238.1" height="6.4" fill="#000"/><rect x="340.6" y="795.0" width="584.4" height="2.0" fill="#000"/><rect x="340.6" y="801.0" width="584.4" height="2.8" fill="#000"/><rect x="1037.0" y="795.2" width="259.0" height="25.8" fill="#000"/><rect x="1296.0" y="795.2" width="5.0" height="32.8" fill="#000"/><rect x="1301.0" y="794.8" width="58.0" height="39.9" fill="#000"/><rect x="1359.0" y="794.8" width="52.0" height="51.7" fill="#000"/><rect x="1411.0" y="794.8" width="13.0" height="55.9" fill="#000"/><rect x="1424.0" y="794.8" width="6.0" height="63.2" fill="#000"/><rect x="1430.0" y="794.8" width="17.0" height="70.7" fill="#000"/><rect x="1447.0" y="794.8" width="3.0" height="76.8" fill="#000"/><rect x="1450.0" y="794.8" width="19.0" height="81.8" fill="#000"/><rect x="1469.0" y="794.8" width="5.0" height="86.7" fill="#000"/><rect x="1474.0" y="794.8" width="104.7" height="86.7" fill="#000"/><rect x="1176.0" y="821.0" width="17.0" height="4.8" fill="#000"/><rect x="1178.0" y="789.2" width="400.7" height="1.4" fill="#000"/></clipPath>
<g fill="#89adbf"><rect x="340.6" y="782.8" width="1238.1" height="6.4" fill="#89adbf"/><rect x="340.6" y="795.0" width="584.4" height="2.0" fill="#89adbf"/><rect x="340.6" y="801.0" width="584.4" height="2.8" fill="#89adbf"/><rect x="1037.0" y="795.2" width="259.0" height="25.8" fill="#89adbf"/><rect x="1296.0" y="795.2" width="5.0" height="32.8" fill="#89adbf"/><rect x="1301.0" y="794.8" width="58.0" height="39.9" fill="#89adbf"/><rect x="1359.0" y="794.8" width="52.0" height="51.7" fill="#89adbf"/><rect x="1411.0" y="794.8" width="13.0" height="55.9" fill="#89adbf"/><rect x="1424.0" y="794.8" width="6.0" height="63.2" fill="#89adbf"/><rect x="1430.0" y="794.8" width="17.0" height="70.7" fill="#89adbf"/><rect x="1447.0" y="794.8" width="3.0" height="76.8" fill="#89adbf"/><rect x="1450.0" y="794.8" width="19.0" height="81.8" fill="#89adbf"/><rect x="1469.0" y="794.8" width="5.0" height="86.7" fill="#89adbf"/><rect x="1474.0" y="794.8" width="104.7" height="86.7" fill="#89adbf"/><rect x="1176.0" y="821.0" width="17.0" height="4.8" fill="#89adbf"/><rect x="1178.0" y="789.2" width="400.7" height="1.4" fill="#89adbf"/></g>
<g clip-path="url(#cp3)"><rect x="340.6" y="782.0" width="5.6" height="106.9" fill="#c4c4c4"/><rect x="451.0" y="782.0" width="2.0" height="106.9" fill="#c4c4c4"/><rect x="545.0" y="782.0" width="3.0" height="106.9" fill="#c4c4c4"/><rect x="662.0" y="782.0" width="2.0" height="106.9" fill="#c4c4c4"/><rect x="690.5" y="782.0" width="5.5" height="106.9" fill="#c4c4c4"/><rect x="715.5" y="782.0" width="3.0" height="106.9" fill="#c4c4c4"/><rect x="794.5" y="782.0" width="6.0" height="106.9" fill="#c4c4c4"/><rect x="862.5" y="782.0" width="6.0" height="106.9" fill="#c4c4c4"/><rect x="876.0" y="782.0" width="6.5" height="106.9" fill="#c4c4c4"/><rect x="887.5" y="782.0" width="6.0" height="106.9" fill="#c4c4c4"/><rect x="922.0" y="782.0" width="8.0" height="106.9" fill="#c4c4c4"/><rect x="933.5" y="782.0" width="5.5" height="106.9" fill="#c4c4c4"/><rect x="1013.0" y="782.0" width="4.2" height="106.9" fill="#c4c4c4"/><rect x="1023.0" y="782.0" width="6.0" height="106.9" fill="#c4c4c4"/><rect x="1032.5" y="782.0" width="5.8" height="106.9" fill="#c4c4c4"/><rect x="1296.8" y="782.0" width="4.7" height="106.9" fill="#c4c4c4"/><rect x="1359.3" y="782.0" width="4.2" height="106.9" fill="#c4c4c4"/><rect x="1411.5" y="782.0" width="4.0" height="106.9" fill="#c4c4c4"/><rect x="1424.5" y="782.0" width="6.5" height="106.9" fill="#c4c4c4"/><rect x="1447.5" y="782.0" width="3.0" height="106.9" fill="#c4c4c4"/><rect x="1469.5" y="782.0" width="5.5" height="106.9" fill="#c4c4c4"/><rect x="1561.0" y="782.0" width="18.0" height="106.9" fill="#c4c4c4"/></g>
<rect x="346.2" y="782.8" width="1214.8" height="6.4" fill="#89adbf"/>
<rect x="794.5" y="786.0" width="6.0" height="3.2" fill="#c4c4c4"/>
<rect x="862.5" y="786.0" width="6.0" height="4.6" fill="#c4c4c4"/>
<rect x="876.0" y="786.0" width="6.5" height="4.6" fill="#c4c4c4"/>
<rect x="887.5" y="786.0" width="6.0" height="4.6" fill="#c4c4c4"/>
<line x1="329" y1="793.4" x2="1705" y2="793.4" stroke="#b8b8b8" stroke-width="1.2" stroke-dasharray="7 4 2 4"/>
<rect x="1193.0" y="801.4" width="104.0" height="1.2" fill="#ffffff"/>
<rect x="1193.0" y="812.3" width="104.0" height="1.2" fill="#ffffff"/>
<rect x="1193.0" y="816.9" width="104.0" height="1.2" fill="#ffffff"/>
<rect x="1517.0" y="868.1" width="44.0" height="1.2" fill="#ffffff"/>
<rect x="1517.0" y="872.3" width="44.0" height="1.2" fill="#ffffff"/>
<rect x="1517.0" y="876.0" width="44.0" height="1.2" fill="#ffffff"/>
<rect x="1578.7" y="795.9" width="110.3" height="1.2" fill="#89adbf"/>
<rect x="1578.7" y="798.2" width="110.3" height="1.2" fill="#89adbf"/>
<rect x="1578.7" y="814.4" width="51.3" height="1.2" fill="#89adbf"/>
<rect x="1578.7" y="817.9" width="110.3" height="1.2" fill="#89adbf"/>
<rect x="1578.7" y="825.4" width="51.3" height="1.2" fill="#89adbf"/>
<rect x="1578.7" y="836.4" width="51.3" height="1.2" fill="#89adbf"/>
<rect x="1578.7" y="845.9" width="51.3" height="1.2" fill="#89adbf"/>
<rect x="1578.7" y="847.9" width="51.3" height="1.2" fill="#89adbf"/>
<rect x="1578.7" y="852.4" width="110.3" height="1.2" fill="#89adbf"/>
<rect x="1578.7" y="856.4" width="51.3" height="1.2" fill="#89adbf"/>
<rect x="1578.7" y="862.9" width="51.3" height="1.2" fill="#89adbf"/>
<rect x="1578.7" y="863.9" width="110.3" height="1.2" fill="#89adbf"/>
<rect x="1578.7" y="868.4" width="110.3" height="1.2" fill="#89adbf"/>
<rect x="1578.7" y="872.4" width="110.3" height="1.2" fill="#89adbf"/>
<rect x="1578.7" y="875.9" width="71.3" height="1.2" fill="#89adbf"/>
<rect x="1578.7" y="880.4" width="110.3" height="1.2" fill="#89adbf"/>
<rect x="1578.7" y="814.5" width="48.3" height="4.9" fill="#89adbf"/>
<rect x="1578.7" y="863.0" width="48.3" height="4.0" fill="#89adbf"/>
<clipPath id="cp4"><rect x="340.6" y="914.6" width="824.4" height="44.9" fill="#000"/><rect x="864.0" y="959.5" width="12.0" height="16.5" fill="#000"/><rect x="876.0" y="959.5" width="14.0" height="20.1" fill="#000"/><rect x="890.0" y="959.5" width="10.0" height="22.7" fill="#000"/><rect x="900.0" y="959.5" width="10.0" height="27.0" fill="#000"/><rect x="910.0" y="959.5" width="12.0" height="32.2" fill="#000"/><rect x="922.0" y="959.5" width="12.0" height="35.6" fill="#000"/><rect x="934.0" y="959.5" width="4.0" height="42.5" fill="#000"/><rect x="938.0" y="959.5" width="75.0" height="43.3" fill="#000"/><rect x="1013.0" y="959.5" width="152.0" height="57.4" fill="#000"/><rect x="1165.0" y="913.8" width="415.0" height="16.3" fill="#000"/><rect x="1165.0" y="959.3" width="415.0" height="16.3" fill="#000"/><rect x="1165.0" y="1014.3" width="465.0" height="2.3" fill="#000"/><rect x="341.0" y="962.8" width="523.0" height="1.2" fill="#000"/><rect x="341.0" y="965.6" width="523.0" height="1.2" fill="#000"/><rect x="546.0" y="971.2" width="318.0" height="1.2" fill="#000"/><rect x="795.0" y="975.5" width="69.0" height="1.2" fill="#000"/></clipPath>
<g fill="#89adbf"><rect x="340.6" y="914.6" width="824.4" height="44.9" fill="#89adbf"/><rect x="864.0" y="959.5" width="12.0" height="16.5" fill="#89adbf"/><rect x="876.0" y="959.5" width="14.0" height="20.1" fill="#89adbf"/><rect x="890.0" y="959.5" width="10.0" height="22.7" fill="#89adbf"/><rect x="900.0" y="959.5" width="10.0" height="27.0" fill="#89adbf"/><rect x="910.0" y="959.5" width="12.0" height="32.2" fill="#89adbf"/><rect x="922.0" y="959.5" width="12.0" height="35.6" fill="#89adbf"/><rect x="934.0" y="959.5" width="4.0" height="42.5" fill="#89adbf"/><rect x="938.0" y="959.5" width="75.0" height="43.3" fill="#89adbf"/><rect x="1013.0" y="959.5" width="152.0" height="57.4" fill="#89adbf"/><rect x="1165.0" y="913.8" width="415.0" height="16.3" fill="#89adbf"/><rect x="1165.0" y="959.3" width="415.0" height="16.3" fill="#89adbf"/><rect x="1165.0" y="1014.3" width="465.0" height="2.3" fill="#89adbf"/><rect x="341.0" y="962.8" width="523.0" height="1.2" fill="#89adbf"/><rect x="341.0" y="965.6" width="523.0" height="1.2" fill="#89adbf"/><rect x="546.0" y="971.2" width="318.0" height="1.2" fill="#89adbf"/><rect x="795.0" y="975.5" width="69.0" height="1.2" fill="#89adbf"/></g>
<g clip-path="url(#cp4)"><rect x="340.6" y="914.4" width="5.6" height="102.6" fill="#c4c4c4"/><rect x="451.0" y="914.4" width="2.0" height="102.6" fill="#c4c4c4"/><rect x="545.0" y="914.4" width="3.0" height="102.6" fill="#c4c4c4"/><rect x="662.0" y="914.4" width="2.0" height="102.6" fill="#c4c4c4"/><rect x="690.5" y="914.4" width="5.5" height="102.6" fill="#c4c4c4"/><rect x="715.5" y="914.4" width="3.0" height="102.6" fill="#c4c4c4"/><rect x="794.5" y="914.4" width="6.0" height="102.6" fill="#c4c4c4"/><rect x="862.5" y="914.4" width="6.0" height="102.6" fill="#c4c4c4"/><rect x="876.0" y="914.4" width="6.5" height="102.6" fill="#c4c4c4"/><rect x="887.5" y="914.4" width="6.0" height="102.6" fill="#c4c4c4"/><rect x="922.0" y="914.4" width="8.0" height="102.6" fill="#c4c4c4"/><rect x="933.5" y="914.4" width="5.5" height="102.6" fill="#c4c4c4"/><rect x="1013.0" y="914.4" width="4.2" height="102.6" fill="#c4c4c4"/><rect x="1023.0" y="914.4" width="6.0" height="102.6" fill="#c4c4c4"/><rect x="1032.5" y="914.4" width="5.8" height="102.6" fill="#c4c4c4"/><rect x="1296.8" y="914.4" width="4.7" height="102.6" fill="#c4c4c4"/><rect x="1359.3" y="914.4" width="4.2" height="102.6" fill="#c4c4c4"/><rect x="1411.5" y="914.4" width="4.0" height="102.6" fill="#c4c4c4"/><rect x="1424.5" y="914.4" width="6.5" height="102.6" fill="#c4c4c4"/><rect x="1447.5" y="914.4" width="3.0" height="102.6" fill="#c4c4c4"/><rect x="1469.5" y="914.4" width="5.5" height="102.6" fill="#c4c4c4"/><rect x="1561.0" y="914.4" width="18.0" height="102.6" fill="#c4c4c4"/></g>
<rect x="1165.4" y="930.1" width="28.3" height="12.0" fill="#c4c4c4"/>
<rect x="1165.4" y="942.1" width="16.3" height="17.2" fill="#c4c4c4"/>
<rect x="1165.4" y="975.6" width="16.3" height="38.7" fill="#c4c4c4"/>
<rect x="1181.7" y="975.6" width="12.0" height="27.4" fill="#c4c4c4"/>
<rect x="1164.4" y="930.0" width="1.2" height="85.0" fill="#d08a3a"/>
<rect x="341.0" y="929.2" width="112.0" height="1.0" fill="#ffffff"/>
<rect x="1165.0" y="963.1" width="396.0" height="1.0" fill="#ffffff"/>
<rect x="1165.0" y="965.7" width="396.0" height="1.0" fill="#ffffff"/>
<rect x="1165.0" y="970.0" width="396.0" height="1.0" fill="#ffffff"/>
<rect x="938.0" y="975.0" width="75.0" height="0.9" fill="#ffffff"/>
<rect x="1580.0" y="914.5" width="109.0" height="1.1" fill="#89adbf"/>
<rect x="902.0" y="914.6" width="1.3" height="75.4" fill="#e03030"/>
<rect x="912.8" y="914.6" width="1.3" height="80.4" fill="#e03030"/>
<rect x="915.8" y="914.6" width="1.2" height="80.4" fill="#d08a3a"/>
<rect x="1030.5" y="914.6" width="1.2" height="101.4" fill="#3a55b0"/>
<clipPath id="cp5"><rect x="340.6" y="1021.9" width="350.4" height="66.0" fill="#000"/><rect x="340.6" y="1095.2" width="350.4" height="7.4" fill="#000"/><rect x="691.0" y="1021.9" width="104.0" height="80.8" fill="#000"/><rect x="795.0" y="1021.9" width="68.0" height="83.9" fill="#000"/><rect x="863.0" y="1021.9" width="6.0" height="92.8" fill="#000"/><rect x="869.0" y="1021.9" width="7.0" height="97.1" fill="#000"/><rect x="876.0" y="1021.9" width="7.0" height="104.0" fill="#000"/><rect x="883.0" y="1021.9" width="10.0" height="109.1" fill="#000"/><rect x="893.0" y="1021.9" width="12.0" height="113.4" fill="#000"/><rect x="905.0" y="1021.9" width="17.0" height="116.0" fill="#000"/><rect x="922.0" y="1021.9" width="10.0" height="123.8" fill="#000"/><rect x="932.0" y="1021.9" width="7.0" height="128.9" fill="#000"/><rect x="939.0" y="1021.9" width="74.0" height="128.9" fill="#000"/><rect x="1013.0" y="1021.9" width="152.0" height="176.1" fill="#000"/><rect x="939.0" y="1167.2" width="74.0" height="9.4" fill="#000"/><rect x="718.0" y="1168.9" width="221.0" height="2.3" fill="#000"/><rect x="883.0" y="1171.2" width="49.0" height="2.8" fill="#000"/><rect x="1165.0" y="1021.9" width="415.0" height="71.3" fill="#000"/><rect x="1165.0" y="1103.5" width="415.0" height="63.1" fill="#000"/><rect x="1165.0" y="1188.3" width="415.0" height="9.9" fill="#000"/></clipPath>
<g fill="#89adbf"><rect x="340.6" y="1021.9" width="350.4" height="66.0" fill="#89adbf"/><rect x="340.6" y="1095.2" width="350.4" height="7.4" fill="#89adbf"/><rect x="691.0" y="1021.9" width="104.0" height="80.8" fill="#89adbf"/><rect x="795.0" y="1021.9" width="68.0" height="83.9" fill="#89adbf"/><rect x="863.0" y="1021.9" width="6.0" height="92.8" fill="#89adbf"/><rect x="869.0" y="1021.9" width="7.0" height="97.1" fill="#89adbf"/><rect x="876.0" y="1021.9" width="7.0" height="104.0" fill="#89adbf"/><rect x="883.0" y="1021.9" width="10.0" height="109.1" fill="#89adbf"/><rect x="893.0" y="1021.9" width="12.0" height="113.4" fill="#89adbf"/><rect x="905.0" y="1021.9" width="17.0" height="116.0" fill="#89adbf"/><rect x="922.0" y="1021.9" width="10.0" height="123.8" fill="#89adbf"/><rect x="932.0" y="1021.9" width="7.0" height="128.9" fill="#89adbf"/><rect x="939.0" y="1021.9" width="74.0" height="128.9" fill="#89adbf"/><rect x="1013.0" y="1021.9" width="152.0" height="176.1" fill="#89adbf"/><rect x="939.0" y="1167.2" width="74.0" height="9.4" fill="#89adbf"/><rect x="718.0" y="1168.9" width="221.0" height="2.3" fill="#89adbf"/><rect x="883.0" y="1171.2" width="49.0" height="2.8" fill="#89adbf"/><rect x="1165.0" y="1021.9" width="415.0" height="71.3" fill="#89adbf"/><rect x="1165.0" y="1103.5" width="415.0" height="63.1" fill="#89adbf"/><rect x="1165.0" y="1188.3" width="415.0" height="9.9" fill="#89adbf"/></g>
<g clip-path="url(#cp5)"><rect x="340.6" y="1020.0" width="5.6" height="179.0" fill="#c4c4c4"/><rect x="451.0" y="1020.0" width="2.0" height="179.0" fill="#c4c4c4"/><rect x="545.0" y="1020.0" width="3.0" height="179.0" fill="#c4c4c4"/><rect x="662.0" y="1020.0" width="2.0" height="179.0" fill="#c4c4c4"/><rect x="690.5" y="1020.0" width="5.5" height="179.0" fill="#c4c4c4"/><rect x="715.5" y="1020.0" width="3.0" height="179.0" fill="#c4c4c4"/><rect x="794.5" y="1020.0" width="6.0" height="179.0" fill="#c4c4c4"/><rect x="862.5" y="1020.0" width="6.0" height="179.0" fill="#c4c4c4"/><rect x="876.0" y="1020.0" width="6.5" height="179.0" fill="#c4c4c4"/><rect x="887.5" y="1020.0" width="6.0" height="179.0" fill="#c4c4c4"/><rect x="922.0" y="1020.0" width="8.0" height="179.0" fill="#c4c4c4"/><rect x="933.5" y="1020.0" width="5.5" height="179.0" fill="#c4c4c4"/><rect x="1013.0" y="1020.0" width="4.2" height="179.0" fill="#c4c4c4"/><rect x="1023.0" y="1020.0" width="6.0" height="179.0" fill="#c4c4c4"/><rect x="1032.5" y="1020.0" width="5.8" height="179.0" fill="#c4c4c4"/><rect x="1296.8" y="1020.0" width="4.7" height="179.0" fill="#c4c4c4"/><rect x="1359.3" y="1020.0" width="4.2" height="179.0" fill="#c4c4c4"/><rect x="1411.5" y="1020.0" width="4.0" height="179.0" fill="#c4c4c4"/><rect x="1424.5" y="1020.0" width="6.5" height="179.0" fill="#c4c4c4"/><rect x="1447.5" y="1020.0" width="3.0" height="179.0" fill="#c4c4c4"/><rect x="1469.5" y="1020.0" width="5.5" height="179.0" fill="#c4c4c4"/><rect x="1561.0" y="1020.0" width="18.0" height="179.0" fill="#c4c4c4"/></g>
<rect x="1165.4" y="1093.2" width="16.3" height="10.3" fill="#c4c4c4"/>
<rect x="1165.4" y="1168.9" width="16.3" height="18.0" fill="#c4c4c4"/>
<rect x="346.5" y="1093.6" width="666.5" height="0.9" fill="#ffffff"/>
<rect x="1580.0" y="1022.5" width="48.0" height="8.7" fill="#89adbf"/>
<rect x="1628.0" y="1022.5" width="3.0" height="8.7" fill="#c4c4c4"/>
<rect x="1580.0" y="1022.5" width="109.0" height="1.1" fill="#89adbf"/>
<rect x="1580.0" y="1106.0" width="48.0" height="6.2" fill="#89adbf"/>
<rect x="1628.0" y="1106.0" width="3.0" height="6.2" fill="#c4c4c4"/>
<rect x="1580.0" y="1125.4" width="51.0" height="1.2" fill="#89adbf"/>
<rect x="1580.0" y="1151.0" width="51.0" height="1.2" fill="#89adbf"/>
<rect x="1580.0" y="1191.9" width="51.0" height="1.2" fill="#89adbf"/>
<clipPath id="cp6"><rect x="340.6" y="1202.5" width="1238.4" height="16.0" fill="#000"/><rect x="340.6" y="1223.3" width="454.4" height="7.5" fill="#000"/><rect x="795.0" y="1223.3" width="68.0" height="6.0" fill="#000"/><rect x="1038.0" y="1223.9" width="258.0" height="22.7" fill="#000"/><rect x="1296.0" y="1223.9" width="63.0" height="34.1" fill="#000"/><rect x="1359.0" y="1223.9" width="53.0" height="45.9" fill="#000"/><rect x="1412.0" y="1223.9" width="12.0" height="50.9" fill="#000"/><rect x="1424.0" y="1223.9" width="6.0" height="54.1" fill="#000"/><rect x="1430.0" y="1223.9" width="19.0" height="57.1" fill="#000"/><rect x="1449.0" y="1223.9" width="21.0" height="59.6" fill="#000"/><rect x="1470.0" y="1223.9" width="109.0" height="63.3" fill="#000"/><rect x="1561.0" y="1287.2" width="18.0" height="7.5" fill="#000"/><rect x="1579.0" y="1287.2" width="49.0" height="10.0" fill="#000"/></clipPath>
<g fill="#89adbf"><rect x="340.6" y="1202.5" width="1238.4" height="16.0" fill="#89adbf"/><rect x="340.6" y="1223.3" width="454.4" height="7.5" fill="#89adbf"/><rect x="795.0" y="1223.3" width="68.0" height="6.0" fill="#89adbf"/><rect x="1038.0" y="1223.9" width="258.0" height="22.7" fill="#89adbf"/><rect x="1296.0" y="1223.9" width="63.0" height="34.1" fill="#89adbf"/><rect x="1359.0" y="1223.9" width="53.0" height="45.9" fill="#89adbf"/><rect x="1412.0" y="1223.9" width="12.0" height="50.9" fill="#89adbf"/><rect x="1424.0" y="1223.9" width="6.0" height="54.1" fill="#89adbf"/><rect x="1430.0" y="1223.9" width="19.0" height="57.1" fill="#89adbf"/><rect x="1449.0" y="1223.9" width="21.0" height="59.6" fill="#89adbf"/><rect x="1470.0" y="1223.9" width="109.0" height="63.3" fill="#89adbf"/><rect x="1561.0" y="1287.2" width="18.0" height="7.5" fill="#89adbf"/><rect x="1579.0" y="1287.2" width="49.0" height="10.0" fill="#89adbf"/></g>
<g clip-path="url(#cp6)"><rect x="340.6" y="1202.0" width="5.6" height="114.0" fill="#c4c4c4"/><rect x="451.0" y="1202.0" width="2.0" height="114.0" fill="#c4c4c4"/><rect x="545.0" y="1202.0" width="3.0" height="114.0" fill="#c4c4c4"/><rect x="662.0" y="1202.0" width="2.0" height="114.0" fill="#c4c4c4"/><rect x="690.5" y="1202.0" width="5.5" height="114.0" fill="#c4c4c4"/><rect x="715.5" y="1202.0" width="3.0" height="114.0" fill="#c4c4c4"/><rect x="794.5" y="1202.0" width="6.0" height="114.0" fill="#c4c4c4"/><rect x="862.5" y="1202.0" width="6.0" height="114.0" fill="#c4c4c4"/><rect x="876.0" y="1202.0" width="6.5" height="114.0" fill="#c4c4c4"/><rect x="887.5" y="1202.0" width="6.0" height="114.0" fill="#c4c4c4"/><rect x="922.0" y="1202.0" width="8.0" height="114.0" fill="#c4c4c4"/><rect x="933.5" y="1202.0" width="5.5" height="114.0" fill="#c4c4c4"/><rect x="1013.0" y="1202.0" width="4.2" height="114.0" fill="#c4c4c4"/><rect x="1023.0" y="1202.0" width="6.0" height="114.0" fill="#c4c4c4"/><rect x="1032.5" y="1202.0" width="5.8" height="114.0" fill="#c4c4c4"/><rect x="1296.8" y="1202.0" width="4.7" height="114.0" fill="#c4c4c4"/><rect x="1359.3" y="1202.0" width="4.2" height="114.0" fill="#c4c4c4"/><rect x="1411.5" y="1202.0" width="4.0" height="114.0" fill="#c4c4c4"/><rect x="1424.5" y="1202.0" width="6.5" height="114.0" fill="#c4c4c4"/><rect x="1447.5" y="1202.0" width="3.0" height="114.0" fill="#c4c4c4"/><rect x="1469.5" y="1202.0" width="5.5" height="114.0" fill="#c4c4c4"/><rect x="1561.0" y="1202.0" width="18.0" height="114.0" fill="#c4c4c4"/></g>
<rect x="346.2" y="1202.5" width="1214.8" height="16.0" fill="#89adbf"/>
<rect x="716.3" y="1207.5" width="3.2" height="4.5" fill="#c4c4c4"/>
<rect x="794.6" y="1206.5" width="5.9" height="4.5" fill="#c4c4c4"/>
<rect x="863.0" y="1224.5" width="62.0" height="1.0" fill="#89adbf"/>
<rect x="863.0" y="1227.5" width="62.0" height="1.0" fill="#89adbf"/>
<rect x="1579.0" y="1202.5" width="110.0" height="5.0" fill="#89adbf"/>
<line x1="329" y1="1220.9" x2="1708" y2="1220.9" stroke="#b8b8b8" stroke-width="1.4" stroke-dasharray="7 4 2 4"/>
<rect x="1193.7" y="1233.0" width="367.3" height="1.0" fill="#ffffff"/>
<rect x="1193.7" y="1236.7" width="367.3" height="1.0" fill="#ffffff"/>
<rect x="1193.7" y="1239.8" width="367.3" height="1.0" fill="#ffffff"/>
<rect x="1193.7" y="1243.5" width="367.3" height="1.0" fill="#ffffff"/>
<rect x="1579.0" y="1226.8" width="52.0" height="1.2" fill="#89adbf"/>
<rect x="1579.0" y="1231.8" width="110.0" height="1.2" fill="#89adbf"/>
<rect x="1579.0" y="1243.8" width="52.0" height="1.2" fill="#89adbf"/>
<rect x="1579.0" y="1250.5" width="52.0" height="1.2" fill="#89adbf"/>
<rect x="1579.0" y="1264.9" width="52.0" height="1.2" fill="#89adbf"/>
<rect x="1579.0" y="1268.7" width="52.0" height="1.2" fill="#89adbf"/>
<rect x="1579.0" y="1281.6" width="52.0" height="1.2" fill="#89adbf"/>
<rect x="1579.0" y="1289.4" width="110.0" height="1.2" fill="#89adbf"/>
<rect x="1579.0" y="1293.4" width="110.0" height="1.2" fill="#89adbf"/>
<rect x="326.1" y="538.4" width="1381.9" height="3.0" fill="#231f20"/>
<rect x="326.1" y="538.4" width="2.9" height="353.4" fill="#231f20"/>
<rect x="1705.0" y="538.4" width="3.0" height="353.4" fill="#231f20"/>
<rect x="326.1" y="888.9" width="1381.9" height="2.9" fill="#231f20"/>
<rect x="329.0" y="628.9" width="1376.0" height="3.1" fill="#231f20"/>
<rect x="329.0" y="779.0" width="1376.0" height="3.0" fill="#231f20"/>
<rect x="325.9" y="911.5" width="1385.1" height="2.9" fill="#231f20"/>
<rect x="325.9" y="911.5" width="3.0" height="407.3" fill="#231f20"/>
<rect x="1708.3" y="911.5" width="2.7" height="407.3" fill="#231f20"/>
<rect x="325.9" y="1316.0" width="1385.1" height="2.8" fill="#231f20"/>
<rect x="329.0" y="1017.0" width="1379.3" height="3.0" fill="#231f20"/>
<rect x="329.0" y="1199.0" width="1379.3" height="3.0" fill="#231f20"/>
<g shape-rendering="auto" stroke="#231f20" stroke-width="3.2" fill="none" stroke-linecap="square">
<path d="M1020.6,985.3 L1066.7,1033.6 M1043.3,985.3 L1154.5,1033.6 M1132.4,942.3 L1296,1033.5 M1154.5,942.3 L1387.5,1033.5"/>
<rect x="1020.6" y="907.5" width="22.7" height="77.8"/>
<rect x="1132.4" y="907.5" width="22.1" height="34.8"/>
</g>
<rect x="1068.2" y="1035.0" width="85.0" height="264.5" fill="#f4f0f1"/>
<rect x="1068.2" y="1035.0" width="4.3" height="264.5" fill="#c4c4c4"/>
<rect x="1068.2" y="1043.0" width="4.3" height="3.0" fill="#f4f0f1"/>
<rect x="1068.2" y="1059.3" width="4.3" height="3.0" fill="#f4f0f1"/>
<rect x="1068.2" y="1075.6" width="4.3" height="3.0" fill="#f4f0f1"/>
<rect x="1068.2" y="1091.9" width="4.3" height="3.0" fill="#f4f0f1"/>
<rect x="1068.2" y="1108.2" width="4.3" height="3.0" fill="#f4f0f1"/>
<rect x="1068.2" y="1124.5" width="4.3" height="3.0" fill="#f4f0f1"/>
<rect x="1068.2" y="1140.8" width="4.3" height="3.0" fill="#f4f0f1"/>
<rect x="1068.2" y="1157.1" width="4.3" height="3.0" fill="#f4f0f1"/>
<rect x="1068.2" y="1173.4" width="4.3" height="3.0" fill="#f4f0f1"/>
<rect x="1068.2" y="1189.7" width="4.3" height="3.0" fill="#f4f0f1"/>
<rect x="1068.2" y="1206.0" width="4.3" height="3.0" fill="#f4f0f1"/>
<rect x="1068.2" y="1222.3" width="4.3" height="3.0" fill="#f4f0f1"/>
<rect x="1068.2" y="1238.6" width="4.3" height="3.0" fill="#f4f0f1"/>
<rect x="1068.2" y="1254.9" width="4.3" height="3.0" fill="#f4f0f1"/>
<rect x="1068.2" y="1271.2" width="4.3" height="3.0" fill="#f4f0f1"/>
<rect x="1068.2" y="1287.5" width="4.3" height="3.0" fill="#f4f0f1"/>
<rect x="1072.5" y="1035.6" width="31.8" height="5.2" fill="#f7f4f5"/>
<rect x="1105.2" y="1035.6" width="47.8" height="5.6" fill="#a9adad"/>
<rect x="1105.2" y="1060.0" width="47.8" height="14.3" fill="#c4c4c4"/>
<rect x="1105.2" y="1076.4" width="47.8" height="14.2" fill="#c4c4c4"/>
<rect x="1105.2" y="1092.7" width="47.8" height="14.3" fill="#c4c4c4"/>
<rect x="1105.2" y="1125.0" width="47.8" height="14.1" fill="#c4c4c4"/>
<rect x="1105.2" y="1141.4" width="47.8" height="14.2" fill="#c4c4c4"/>
<rect x="1105.2" y="1157.7" width="47.8" height="14.1" fill="#c4c4c4"/>
<rect x="1105.2" y="1173.5" width="47.8" height="13.5" fill="#c4c4c4"/>
<rect x="1105.2" y="1206.2" width="47.8" height="13.7" fill="#c4c4c4"/>
<rect x="1105.2" y="1222.2" width="47.8" height="13.7" fill="#c4c4c4"/>
<rect x="1105.2" y="1238.0" width="47.8" height="13.7" fill="#c4c4c4"/>
<rect x="1105.2" y="1286.1" width="47.8" height="13.4" fill="#c4c4c4"/>
<rect x="1072.5" y="1052.1" width="80.5" height="1.2" fill="#5b9ab8"/>
<rect x="1072.5" y="1068.3" width="31.8" height="1.2" fill="#5b9ab8"/>
<rect x="1072.5" y="1084.6" width="31.8" height="1.2" fill="#5b9ab8"/>
<rect x="1072.5" y="1100.8" width="31.8" height="1.2" fill="#5b9ab8"/>
<rect x="1072.5" y="1117.1" width="80.5" height="1.2" fill="#5b9ab8"/>
<rect x="1072.5" y="1133.3" width="31.8" height="1.2" fill="#5b9ab8"/>
<rect x="1072.5" y="1149.5" width="31.8" height="1.2" fill="#5b9ab8"/>
<rect x="1072.5" y="1165.8" width="31.8" height="1.2" fill="#5b9ab8"/>
<rect x="1072.5" y="1182.0" width="31.8" height="1.2" fill="#5b9ab8"/>
<rect x="1072.5" y="1198.3" width="80.5" height="1.2" fill="#5b9ab8"/>
<rect x="1072.5" y="1214.5" width="31.8" height="1.2" fill="#5b9ab8"/>
<rect x="1072.5" y="1230.7" width="31.8" height="1.2" fill="#5b9ab8"/>
<rect x="1072.5" y="1247.0" width="31.8" height="1.2" fill="#5b9ab8"/>
<rect x="1072.5" y="1263.2" width="80.5" height="1.2" fill="#5b9ab8"/>
<rect x="1072.5" y="1279.5" width="80.5" height="1.2" fill="#5b9ab8"/>
<rect x="1072.5" y="1295.7" width="31.8" height="1.2" fill="#5b9ab8"/>
<rect x="1104.0" y="1035.0" width="1.2" height="264.5" fill="#3a55b0"/>
<rect x="1090.6" y="1045.8" width="34.4" height="1.8" fill="#5e4f96"/><rect x="1093.0" y="1045.8" width="29.6" height="13.8" fill="#5e4f96"/><rect x="1090.6" y="1057.8" width="34.4" height="1.8" fill="#5e4f96"/><text x="1107.8" y="1056.0" font-size="9.3" font-weight="bold" fill="#ffffff" text-anchor="middle">702</text>
<rect x="1090.6" y="1109.2" width="34.4" height="1.8" fill="#5e4f96"/><rect x="1093.0" y="1109.2" width="29.6" height="13.8" fill="#5e4f96"/><rect x="1090.6" y="1121.2" width="34.4" height="1.8" fill="#5e4f96"/><text x="1107.8" y="1119.4" font-size="9.3" font-weight="bold" fill="#ffffff" text-anchor="middle">739</text>
<rect x="1090.6" y="1190.2" width="34.4" height="1.8" fill="#5e4f96"/><rect x="1093.0" y="1190.2" width="29.6" height="13.8" fill="#5e4f96"/><rect x="1090.6" y="1202.2" width="34.4" height="1.8" fill="#5e4f96"/><text x="1107.8" y="1200.4" font-size="9.3" font-weight="bold" fill="#ffffff" text-anchor="middle">809</text>
<rect x="1090.6" y="1254.7" width="34.4" height="1.8" fill="#5e4f96"/><rect x="1093.0" y="1254.7" width="29.6" height="13.8" fill="#5e4f96"/><rect x="1090.6" y="1266.7" width="34.4" height="1.8" fill="#5e4f96"/><text x="1107.8" y="1264.9" font-size="9.3" font-weight="bold" fill="#ffffff" text-anchor="middle">739</text>
<rect x="1090.6" y="1270.3" width="34.4" height="1.8" fill="#5e4f96"/><rect x="1093.0" y="1270.3" width="29.6" height="13.8" fill="#5e4f96"/><rect x="1090.6" y="1282.3" width="34.4" height="1.8" fill="#5e4f96"/><text x="1107.8" y="1280.5" font-size="9.3" font-weight="bold" fill="#ffffff" text-anchor="middle">702</text>
<rect x="1297.5" y="1035.0" width="88.5" height="264.2" fill="#f4f0f1"/>
<rect x="1297.5" y="1043.8" width="88.5" height="1.2" fill="#5b9ab8"/>
<rect x="1297.5" y="1059.9" width="88.5" height="1.2" fill="#5b9ab8"/>
<rect x="1297.5" y="1075.9" width="88.5" height="1.2" fill="#5b9ab8"/>
<rect x="1297.5" y="1092.0" width="88.5" height="1.2" fill="#5b9ab8"/>
<rect x="1297.5" y="1108.0" width="88.5" height="1.2" fill="#5b9ab8"/>
<rect x="1297.5" y="1124.1" width="88.5" height="1.2" fill="#5b9ab8"/>
<rect x="1297.5" y="1140.1" width="88.5" height="1.2" fill="#5b9ab8"/>
<rect x="1297.5" y="1156.2" width="88.5" height="1.2" fill="#5b9ab8"/>
<rect x="1297.5" y="1172.2" width="88.5" height="1.2" fill="#5b9ab8"/>
<rect x="1297.5" y="1188.3" width="88.5" height="1.2" fill="#5b9ab8"/>
<rect x="1297.5" y="1204.3" width="88.5" height="1.2" fill="#5b9ab8"/>
<rect x="1297.5" y="1220.4" width="88.5" height="1.2" fill="#5b9ab8"/>
<rect x="1297.5" y="1236.4" width="88.5" height="1.2" fill="#5b9ab8"/>
<rect x="1297.5" y="1252.5" width="88.5" height="1.2" fill="#5b9ab8"/>
<rect x="1297.5" y="1268.5" width="88.5" height="1.2" fill="#5b9ab8"/>
<rect x="1297.5" y="1284.6" width="88.5" height="1.2" fill="#5b9ab8"/>
<rect x="1331.1" y="1181.5" width="28.2" height="13.5" fill="#c4c4c4"/>
<rect x="1329.9" y="1198.0" width="29.4" height="13.7" fill="#c4c4c4"/>
<rect x="1329.9" y="1278.0" width="29.4" height="13.7" fill="#c4c4c4"/>
<rect x="1315.7" y="1051.9" width="34.4" height="1.8" fill="#5e4f96"/><rect x="1318.1" y="1051.9" width="29.6" height="14.2" fill="#5e4f96"/><rect x="1315.7" y="1064.3" width="34.4" height="1.8" fill="#5e4f96"/><text x="1332.9" y="1062.3" font-size="9.3" font-weight="bold" fill="#ffffff" text-anchor="middle">801</text>
<rect x="1315.7" y="1068.1" width="34.4" height="1.8" fill="#5e4f96"/><rect x="1318.1" y="1068.1" width="29.6" height="14.2" fill="#5e4f96"/><rect x="1315.7" y="1080.5" width="34.4" height="1.8" fill="#5e4f96"/><text x="1332.9" y="1078.5" font-size="9.3" font-weight="bold" fill="#ffffff" text-anchor="middle">730</text>
<rect x="1315.7" y="1084.8" width="34.4" height="1.8" fill="#5e4f96"/><rect x="1318.1" y="1084.8" width="29.6" height="14.2" fill="#5e4f96"/><rect x="1315.7" y="1097.2" width="34.4" height="1.8" fill="#5e4f96"/><text x="1332.9" y="1095.2" font-size="9.3" font-weight="bold" fill="#ffffff" text-anchor="middle">721</text>
<rect x="1315.7" y="1117.2" width="34.4" height="1.8" fill="#5e4f96"/><rect x="1318.1" y="1117.2" width="29.6" height="14.2" fill="#5e4f96"/><rect x="1315.7" y="1129.6" width="34.4" height="1.8" fill="#5e4f96"/><text x="1332.9" y="1127.6" font-size="9.3" font-weight="bold" fill="#ffffff" text-anchor="middle">729</text>
<rect x="1315.7" y="1133.4" width="34.4" height="1.8" fill="#5e4f96"/><rect x="1318.1" y="1133.4" width="29.6" height="14.2" fill="#5e4f96"/><rect x="1315.7" y="1145.8" width="34.4" height="1.8" fill="#5e4f96"/><text x="1332.9" y="1143.8" font-size="9.3" font-weight="bold" fill="#ffffff" text-anchor="middle">522</text>
<rect x="1315.7" y="1164.6" width="34.4" height="1.8" fill="#5e4f96"/><rect x="1318.1" y="1164.6" width="29.6" height="14.2" fill="#5e4f96"/><rect x="1315.7" y="1177.0" width="34.4" height="1.8" fill="#5e4f96"/><text x="1332.9" y="1175.0" font-size="9.3" font-weight="bold" fill="#ffffff" text-anchor="middle">720</text>
<rect x="1316.8" y="1229.6" width="34.4" height="1.8" fill="#5e4f96"/><rect x="1319.2" y="1229.6" width="29.6" height="14.2" fill="#5e4f96"/><rect x="1316.8" y="1242.0" width="34.4" height="1.8" fill="#5e4f96"/><text x="1334.0" y="1240.0" font-size="9.3" font-weight="bold" fill="#ffffff" text-anchor="middle">676</text>
<g fill="none" stroke="#231f20" stroke-width="3">
<rect x="1066.75" y="1033.6" width="87.9" height="267.3"/>
<rect x="1295.2" y="1033.5" width="92.3" height="267.2"/>
</g>
</svg>
</body></html>
